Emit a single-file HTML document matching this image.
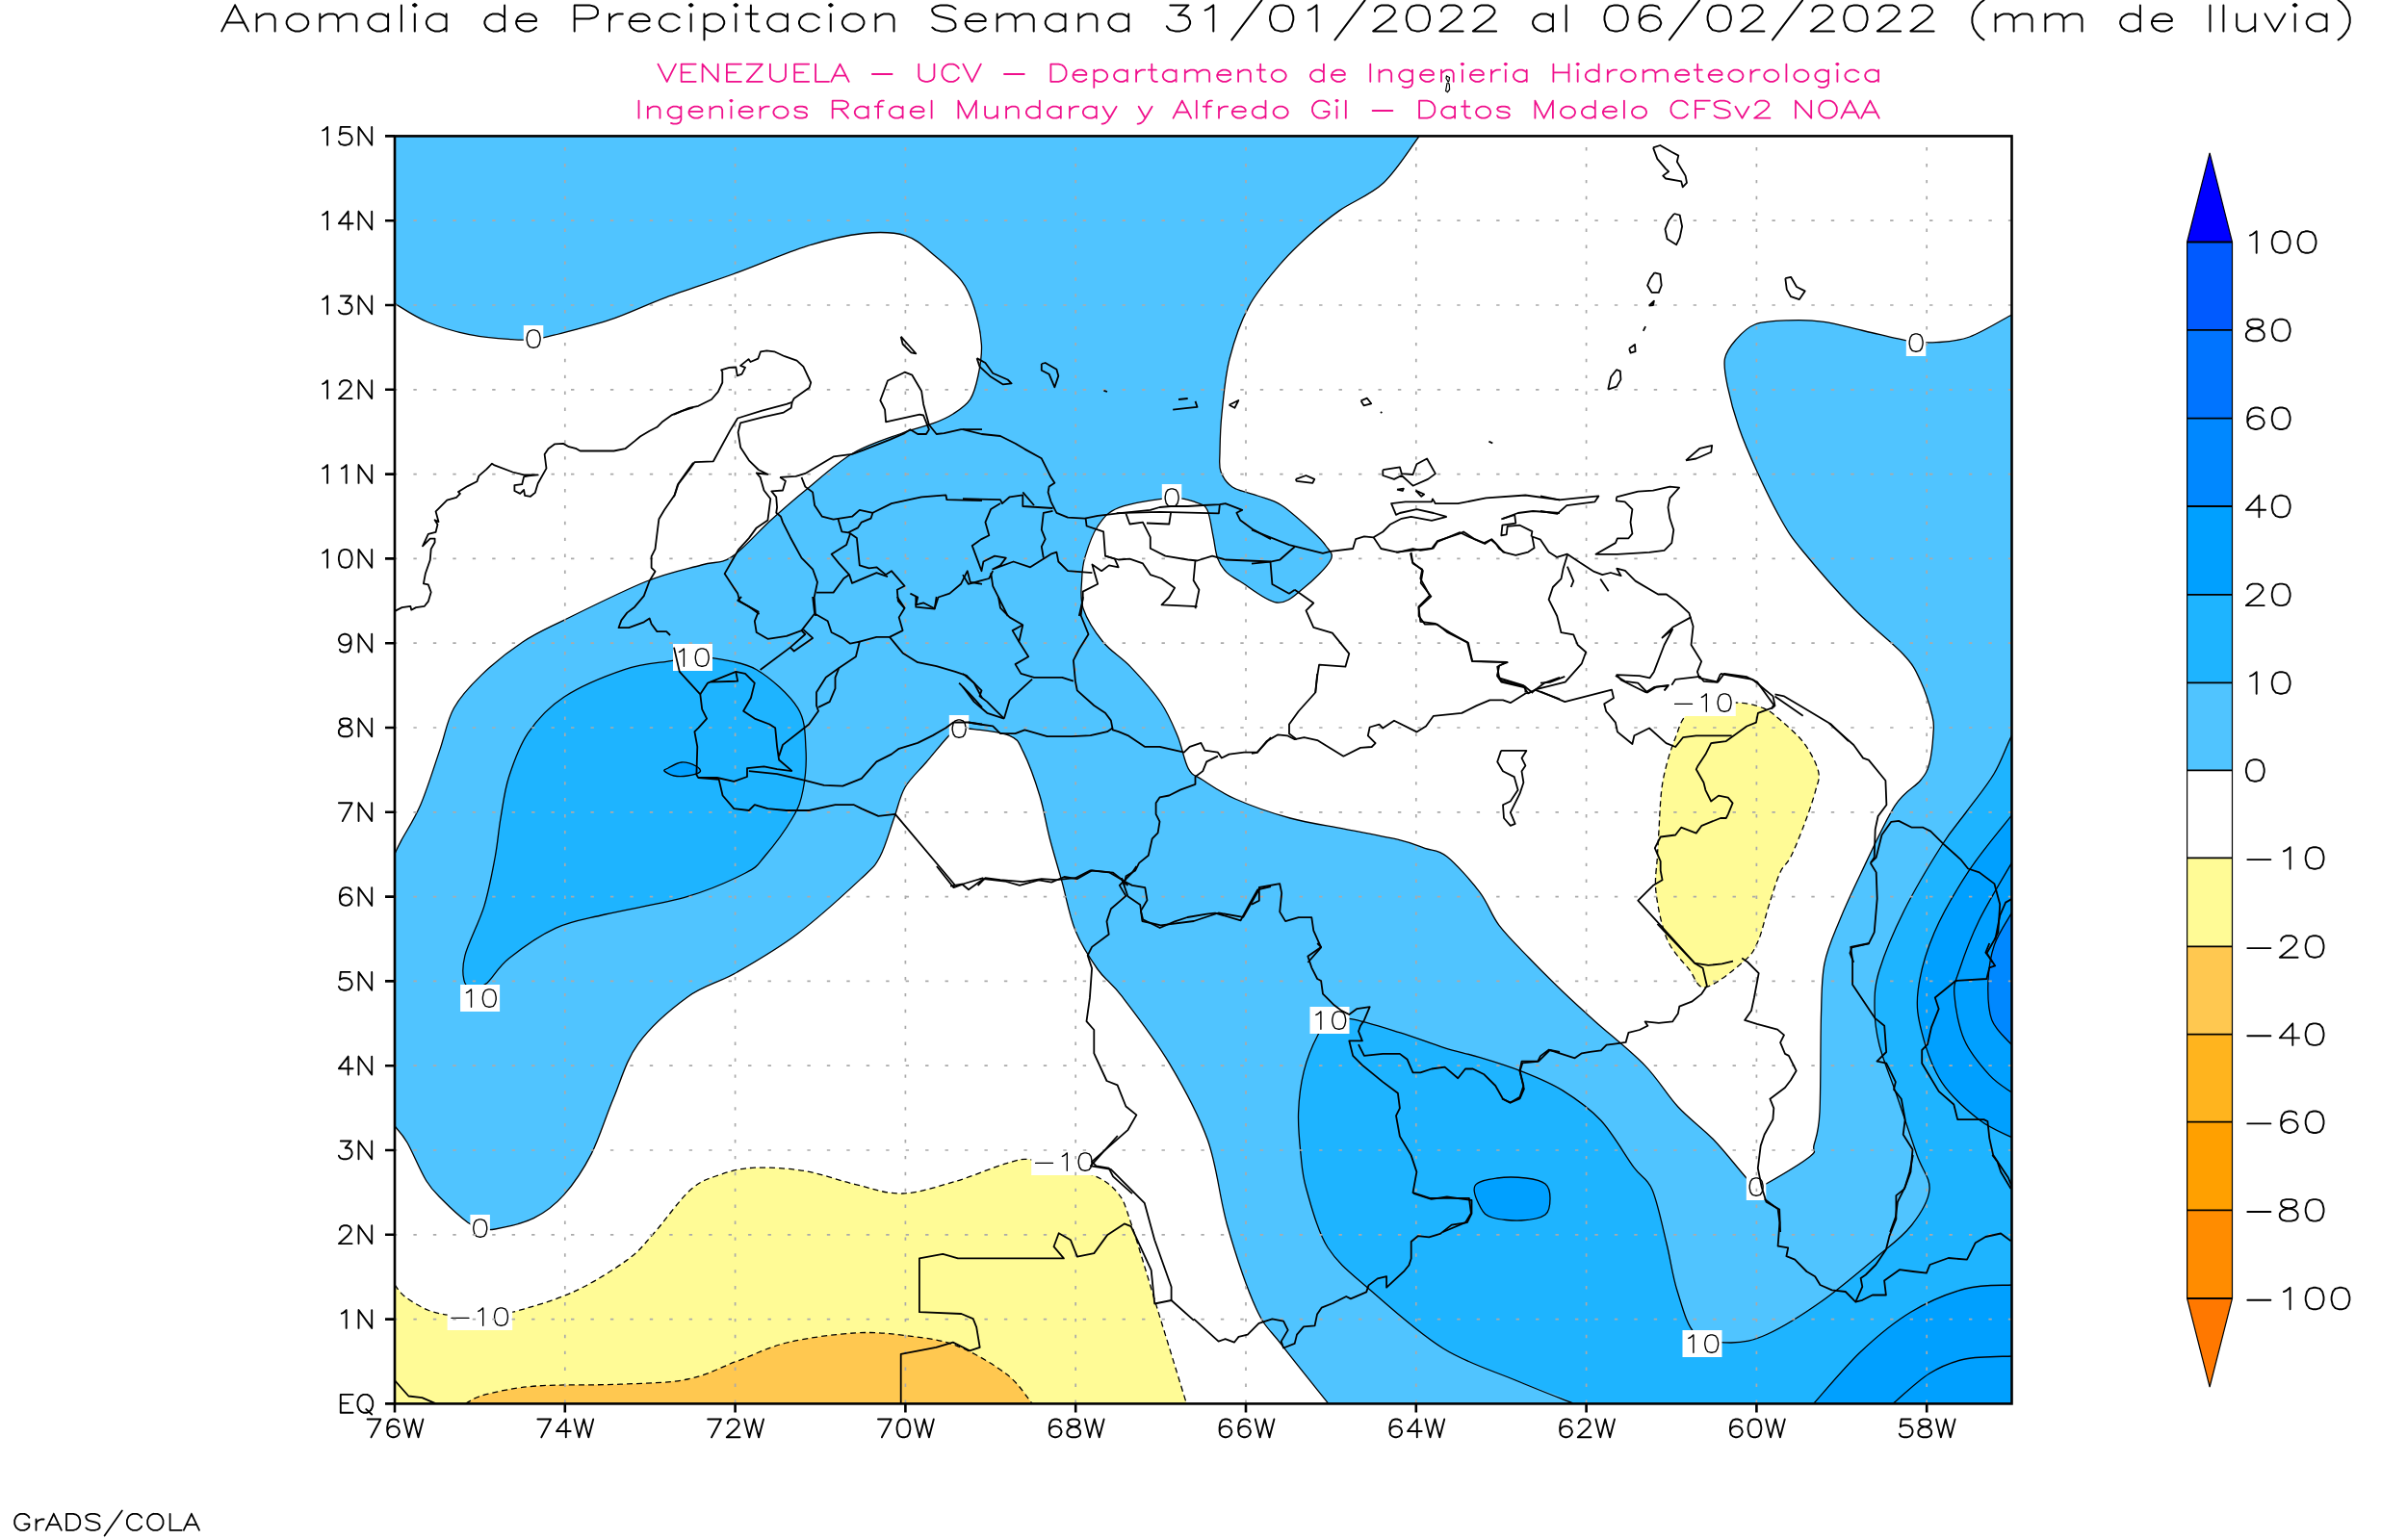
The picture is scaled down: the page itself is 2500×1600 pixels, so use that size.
<!DOCTYPE html>
<html><head><meta charset="utf-8"><style>html,body{margin:0;padding:0;background:#fff;}svg{display:block;}</style></head>
<body><svg width="2500" height="1600" viewBox="0 0 2500 1600">
<rect width="2500" height="1600" fill="#fff"/>
<defs><clipPath id="mc"><rect x="410" y="141.4" width="1679.5" height="1317.0"/></clipPath></defs>
<g clip-path="url(#mc)">
<rect x="410" y="141.4" width="1679.5" height="1317.0" fill="#50c4ff"/>
<path d="M380 298 C385 300.9 399.6 309.4 410.2 315.5 C420.8 321.6 430.9 329.1 443.8 334.5 C456.7 339.9 473 344.7 487.6 347.7 C502.2 350.7 520.5 351.8 531.5 352.6 C542.5 353.5 546.1 353.5 553.4 352.8 C560.7 352.1 561.9 351.6 575.3 348.2 C588.7 344.8 614.2 338.8 633.7 332.2 C653.2 325.6 670.2 316.9 692.1 308.8 C714 300.7 740.9 292.3 765.2 283.4 C789.6 274.5 816.3 262.4 838.2 255.6 C860.1 248.8 879.7 244.3 896.7 242.5 C913.8 240.7 928.3 241.1 940.5 244.8 C952.7 248.6 960.3 257.1 970 265 C979.7 272.9 991.9 282.9 998.9 292.1 C1005.9 301.3 1008.6 309 1012 320 C1015.4 331 1018.7 346.2 1019.4 357.9 C1020.1 369.6 1018 380.5 1016 390 C1014 399.5 1012 408.2 1007.7 414.9 C1003.4 421.6 996.3 425.9 990 430 C983.7 434.1 978.5 436.4 969.7 439.7 C960.9 443 951 444.8 937 450 C923 455.2 902.4 461.2 885.7 471 C869 480.8 851.3 497.3 837 509 C822.7 520.7 812.8 529.4 800 541 C787.2 552.6 771.9 570.9 760 578.6 C748.1 586.3 743.4 582.8 728.6 587 C713.8 591.2 695.2 594.5 671.4 604 C647.6 613.5 607.1 633.8 585.7 644.3 C564.3 654.8 557.2 657.5 542.9 667 C528.6 676.5 511.9 689.9 500 701.4 C488.1 712.9 478.6 722.8 471.4 735.7 C464.2 748.6 462.7 761.9 457 778.6 C451.3 795.3 443.7 820 437 835.7 C430.3 851.4 421.5 864.4 417 872.9 C412.5 881.4 416.2 876.6 410 887 C403.8 897.4 385 927 380 935 Z" fill="#fff"/>
<path d="M380 1140 C385 1145 402.9 1162.2 410 1170 C417.1 1177.8 417.4 1177.5 422.9 1187 C428.4 1196.5 436.7 1217 442.9 1227 C449.1 1237 452.9 1239.8 460 1247 C467.1 1254.2 479.3 1265.2 485.7 1270 C492.1 1274.8 493.8 1274.8 498.6 1276 C503.4 1277.2 505 1278.7 514.3 1277 C523.6 1275.3 542.4 1271.6 554.3 1265.7 C566.2 1259.8 575.7 1252.6 585.7 1241.4 C595.7 1230.2 605.8 1215.3 614.3 1198.6 C622.8 1181.9 628.9 1160.5 637 1141.4 C645.1 1122.4 650 1101.9 662.9 1084.3 C675.8 1066.7 697.2 1048.1 714.3 1035.7 C731.4 1023.3 746.7 1021 765.7 1010 C784.8 999 807.2 986.2 828.6 970 C850 953.8 880.1 926.2 894.3 912.9 C908.5 899.6 908.3 900.5 914 890 C919.7 879.5 924.3 862 928.6 850 C932.9 838 934.4 827.7 940 818 C945.6 808.3 954.5 800.8 962 792 C969.5 783.2 979.3 770.8 985 765 C990.7 759.2 992.5 758.8 996 757.5 C999.5 756.2 996.9 755.9 1005.7 757 C1014.5 758.1 1039.1 760.2 1048.6 764.3 C1058.1 768.4 1057.7 770.9 1062.9 781.4 C1068.1 791.9 1075.5 812.2 1080 827 C1084.5 841.8 1086.2 855.2 1090 870 C1093.8 884.8 1098.4 899.5 1102.9 915.7 C1107.4 931.9 1110.8 951.9 1117 967.1 C1123.2 982.3 1131.9 995.6 1140 1007 C1148.1 1018.4 1153.3 1019.5 1165.7 1035.7 C1178.1 1051.9 1199.5 1079.5 1214.3 1104.3 C1229.1 1129.1 1244.2 1156.1 1254.3 1184.3 C1264.4 1212.5 1266.4 1244.3 1274.8 1273.5 C1283.2 1302.7 1295.3 1338.9 1304.7 1359.5 C1314.1 1380.1 1318.4 1380.5 1330.9 1396.9 C1343.4 1413.3 1368 1442.5 1379.5 1458 C1391 1473.5 1396.6 1484.7 1400 1490 L380 1488.4 Z" fill="#fff"/>
<path d="M380 1310 C385 1314.2 403.2 1328.8 410 1335 C416.8 1341.2 415.1 1343.1 421 1347.5 C426.9 1351.9 437.3 1358.3 445.4 1361.5 C453.5 1364.7 460.8 1365.5 469.8 1366.7 C478.8 1367.9 489 1369 499.5 1368.4 C510 1367.8 516.6 1367.6 532.6 1363.2 C548.6 1358.8 575.6 1351.3 595.4 1342.3 C615.2 1333.3 637.3 1319.3 651.3 1309.1 C665.3 1298.9 668.2 1293.4 679.2 1281.2 C690.2 1269 706 1246 717.6 1235.8 C729.2 1225.6 738 1223.9 749 1220.1 C760 1216.3 769.4 1213.8 783.9 1213.2 C798.4 1212.6 818.8 1213.7 836.2 1216.6 C853.7 1219.5 871.7 1226.7 888.6 1230.6 C905.5 1234.5 920 1240.6 937.4 1240 C954.8 1239.4 975.3 1232.3 993.3 1227.1 C1011.3 1221.9 1032.2 1212.3 1045.6 1208.6 C1059 1204.9 1059 1203.2 1073.5 1205.1 C1088 1207 1118.4 1214.4 1132.9 1220.1 C1147.5 1225.8 1153.8 1230.9 1160.8 1239.3 C1167.8 1247.7 1167.7 1250.3 1174.7 1270.7 C1181.7 1291.1 1193 1330.3 1202.6 1361.5 C1212.2 1392.7 1225.7 1436.6 1232.3 1458 C1238.9 1479.4 1240.4 1484.7 1242 1490 L380 1488.4 Z" fill="#fffb96"/>
<path d="M460 1475 C464 1472.2 476.4 1462.4 483.8 1458 C491.2 1453.6 492.5 1451.7 504.7 1448.7 C516.9 1445.7 533.7 1441.8 557 1440 C580.3 1438.2 618.1 1439.4 644.3 1438.2 C670.5 1437 693.8 1437.1 714.1 1433 C734.5 1428.9 749 1420.2 766.4 1413.8 C783.8 1407.4 798.4 1399.4 818.8 1394.6 C839.2 1389.8 868.2 1386.1 888.6 1384.9 C909 1383.7 923.5 1385.4 940.9 1387.6 C958.3 1389.8 975.8 1391.4 993.3 1398.1 C1010.8 1404.8 1032.5 1417.8 1045.6 1427.8 C1058.7 1437.8 1065.2 1449.3 1071.8 1458 C1078.4 1466.7 1082.8 1476.3 1085 1480 Z" fill="#ffc850"/>
<path d="M1500 100 C1495.7 106.8 1484.8 126 1474.3 141 C1463.8 156 1450.8 177.1 1437 190 C1423.2 202.9 1404.2 209.6 1391.4 218.6 C1378.6 227.6 1370.5 234.5 1360 244 C1349.5 253.5 1339.1 263.3 1328.6 275.7 C1318.1 288.1 1305.6 302.4 1297 318.6 C1288.4 334.8 1281.7 354.4 1277 373 C1272.3 391.6 1270.7 413.8 1269 430 C1267.3 446.2 1267.2 460 1267 470 C1266.8 480 1265.8 484 1268 490 C1270.2 496 1273.7 501.8 1280 506 C1286.3 510.2 1297.5 511.8 1306 515 C1314.5 518.2 1321.7 519 1331 525 C1340.3 531 1354.3 544 1362 551 C1369.7 558 1373.7 561.8 1377 567 C1380.3 572.2 1385.8 574.7 1382 582 C1378.2 589.3 1363.3 603.7 1354 611 C1344.7 618.3 1337 627.2 1326 626 C1315 624.8 1296.7 609.2 1288 604 C1279.3 598.8 1277.9 598.6 1274 594.6 C1270.1 590.6 1266.8 586 1264.5 579.7 C1262.2 573.4 1261.8 565.3 1260 557 C1258.2 548.7 1256.8 535.8 1254 530 C1251.2 524.2 1249.5 524.4 1243.3 522.3 C1237.1 520.2 1230.5 516.6 1217 517.4 C1203.5 518.2 1175.1 522.4 1162.3 527.3 C1149.5 532.2 1145.9 538.5 1140 547 C1134.1 555.5 1129.7 569.6 1127 578.6 C1124.3 587.6 1124 592.1 1123.7 601 C1123.4 609.9 1121.3 621 1125 632 C1128.7 643 1137.5 656.9 1145.7 667 C1153.9 677.1 1164.3 682.4 1174.3 692.9 C1184.3 703.4 1197.6 718.1 1205.7 730 C1213.8 741.9 1218.1 752.9 1222.9 764.3 C1227.7 775.7 1230 791 1234.3 798.6 C1238.6 806.2 1240.5 804.8 1248.6 810 C1256.7 815.2 1267.7 823.3 1282.9 830 C1298.1 836.7 1321 844.8 1340 850 C1359 855.2 1378 857.6 1397 861.4 C1416 865.2 1440.5 869.6 1454.3 872.9 C1468.1 876.2 1471.9 878.5 1480 881.4 C1488.1 884.2 1493.4 882.4 1502.9 890 C1512.4 897.6 1528 915.2 1537 927.1 C1546 939 1548.4 950 1557 961.4 C1565.6 972.8 1577.6 984.3 1588.6 995.7 C1599.6 1007.1 1611.5 1019 1622.9 1030 C1634.3 1041 1642.7 1048.6 1657 1061.4 C1671.3 1074.2 1694.3 1092.3 1708.6 1107.1 C1722.9 1121.9 1731 1137.1 1742.9 1150 C1754.8 1162.9 1768.1 1171.9 1780 1184.3 C1791.9 1196.7 1806.9 1216.2 1814.3 1224.3 C1821.7 1232.4 1821 1232 1824.3 1233 C1827.6 1234 1825 1235.3 1834.3 1230 C1843.6 1224.7 1871.7 1208.1 1880 1201.4 C1888.3 1194.7 1882.3 1197.6 1884 1190 C1885.7 1182.4 1888.8 1178.3 1890 1155.6 C1891.2 1132.9 1890.7 1079.8 1891.5 1054 C1892.3 1028.2 1891.8 1017.1 1895 1000.9 C1898.2 984.7 1904.2 972.2 1910.5 956.7 C1916.8 941.2 1922.9 927.9 1932.5 908 C1942.1 888.1 1957.6 853.6 1967.9 837.4 C1978.2 821.2 1988.5 818.4 1994.5 811 C2000.5 803.6 2001.8 801.2 2004 793 C2006.2 784.8 2007.5 770.2 2008 762 C2008.5 753.8 2009.2 753.2 2007 744 C2004.8 734.8 1999.5 717.7 1994.5 707 C1989.5 696.3 1988.4 692.3 1977 680 C1965.6 667.7 1943.5 651 1926 633 C1908.5 615 1884.7 587.5 1872 572 C1859.3 556.5 1857.8 553.7 1850 540 C1842.2 526.3 1832.3 506 1825 490 C1817.7 474 1811.1 458.8 1806 444 C1800.9 429.2 1796.7 413.2 1794.3 401.4 C1791.9 389.5 1790 381 1791.4 372.9 C1792.8 364.8 1797.7 359 1802.9 353 C1808.2 347 1813.9 340.4 1822.9 337 C1831.9 333.6 1845.1 333.3 1857 332.9 C1868.9 332.4 1881 332.4 1894.3 334.3 C1907.6 336.2 1922.2 340.7 1937 344 C1951.8 347.3 1970.7 352.4 1983 354.3 C1995.3 356.2 2000.5 356.4 2011 355.7 C2021.5 355 2032.6 354.8 2045.7 350 C2058.8 345.2 2077.1 334.5 2089.5 327 C2101.9 319.5 2114.9 308.7 2120 305 L2119.5 111.4 L1500 111.4 Z" fill="#fff"/>
<path d="M1751.4 742.9 C1757.2 737.6 1766.4 737.1 1775 735 C1783.6 732.9 1793.5 729.9 1802.9 730 C1812.3 730.1 1823.3 732.4 1831.4 735.7 C1839.5 739 1844.2 743.8 1851.4 750 C1858.6 756.2 1868.1 764.3 1874.3 772.9 C1880.5 781.5 1886.7 793.3 1888.6 801.4 C1890.5 809.5 1888.1 812.3 1885.7 821.4 C1883.3 830.5 1878.6 844.3 1874.3 855.7 C1870 867.1 1864.3 881.4 1860 890 C1855.7 898.6 1852.4 898.5 1848.6 907.1 C1844.8 915.7 1840.8 929.5 1837 941.4 C1833.2 953.3 1830 969.1 1825.7 978.6 C1821.4 988.1 1820.5 990.8 1811.4 998.6 C1802.4 1006.5 1780.9 1024.3 1771.4 1025.7 C1761.9 1027.1 1761 1015.4 1754.3 1007.1 C1747.6 998.8 1737.1 989 1731.4 975.7 C1725.7 962.4 1721.7 941.4 1720 927.1 C1718.3 912.8 1720.9 900.5 1721.4 890 C1721.9 879.5 1722.2 875.7 1722.9 864.3 C1723.6 852.9 1724.3 833.3 1725.7 821.4 C1727.1 809.5 1729 802 1731.4 792.9 C1733.8 783.8 1736.7 775.3 1740 767 C1743.3 758.7 1745.6 748.2 1751.4 742.9 Z" fill="#fffb96"/>
<path d="M697 686.6 C708.7 684.5 711.8 683.5 719 683 C726.2 682.5 728.9 681.6 740 683.7 C751.1 685.8 770.9 687 785.7 695.7 C800.5 704.4 820.1 721.9 828.6 735.7 C837.1 749.5 836.1 764.4 837 778.6 C837.9 792.8 836.3 809.1 834 821 C831.7 832.9 829.7 838.5 823 850 C816.3 861.5 802.1 880.5 794 890 C785.9 899.5 787.6 900.1 774.3 907 C761 913.9 738.6 924.2 714.3 931.4 C690 938.6 651.5 944.5 628.6 950 C605.7 955.5 593.7 956.7 577 964.3 C560.3 971.9 540.5 986.2 528.6 995.7 C516.7 1005.2 511.5 1016.7 505.7 1021.4 C499.9 1026.1 497.8 1024 494 1024 C490.2 1024 484.8 1026.6 482.9 1021.4 C481 1016.2 479.6 1006.2 482.9 992.9 C486.2 979.6 497.7 958.5 502.9 941.4 C508.1 924.2 511.4 905.2 514.3 890 C517.1 874.8 517.6 863.8 520 850 C522.4 836.2 523.8 821.8 528.6 807 C533.4 792.2 539.1 775.2 548.6 761.4 C558.1 747.6 569 735.2 585.7 724.3 C602.4 713.3 630.1 702 648.6 695.7 C667.1 689.4 685.3 688.7 697 686.6 Z" fill="#1eb4ff"/>
<path d="M1650 1490 C1647.3 1484.7 1646.4 1467.3 1633.7 1458 C1621 1448.7 1596.5 1443.5 1574 1434 C1551.5 1424.5 1524 1416.5 1499 1401 C1474 1385.5 1444 1358.5 1424 1341 C1404 1323.5 1390.2 1313.5 1379 1296 C1367.8 1278.5 1361.7 1252.2 1357 1236 C1352.3 1219.8 1352.4 1212.4 1351 1199 C1349.6 1185.6 1348 1170 1348.6 1155.7 C1349.1 1141.4 1351 1126.2 1354.3 1112.9 C1357.6 1099.6 1364.1 1084.2 1368.6 1075.7 C1373 1067.2 1375.3 1064.8 1381 1062 C1386.7 1059.2 1390.8 1056.8 1403 1058.6 C1415.2 1060.4 1438.1 1067.9 1454.3 1072.9 C1470.5 1077.9 1486.2 1084.3 1500 1088.6 C1513.8 1092.9 1523.7 1094.5 1537 1098.6 C1550.3 1102.6 1565.7 1107.2 1580 1112.9 C1594.3 1118.6 1609.1 1124.3 1622.9 1132.9 C1636.7 1141.5 1650.6 1151 1662.9 1164.3 C1675.2 1177.6 1688.2 1201 1697 1212.9 C1705.8 1224.9 1710.3 1222.8 1716 1236 C1721.7 1249.2 1726.7 1274.5 1731 1292 C1735.3 1309.5 1737 1325.3 1742 1341 C1747 1356.7 1751.7 1377 1761 1386 C1770.3 1395 1785.5 1395 1798 1395 C1810.5 1395 1820.3 1393.2 1836 1386 C1851.7 1378.8 1873.3 1365.2 1892 1352 C1910.7 1338.8 1932.5 1320.1 1948 1307 C1963.5 1293.9 1975.7 1285.3 1985 1273.5 C1994.3 1261.7 2003 1248.2 2004 1236 C2005 1223.8 1996.7 1216.3 1991 1200 C1985.3 1183.7 1976.5 1157 1970 1138 C1963.5 1119 1955.8 1101.2 1952 1086 C1948.2 1070.8 1947 1060 1947 1047 C1947 1034 1946.8 1024.9 1952 1008 C1957.2 991.1 1967.2 967.2 1978 945.5 C1988.8 923.8 2006.3 894.9 2017 878 C2027.7 861.1 2033 856.3 2042 844 C2051 831.7 2063.1 817.3 2071 804 C2078.9 790.7 2083 777.2 2089.5 764 C2096 750.8 2106.6 731.5 2110 725 L2119.5 1488.4 L1650 1488.4 Z" fill="#1eb4ff"/>
<path d="M2110 820 C2106.6 824.5 2100.3 832.8 2089.6 846.8 C2078.8 860.8 2058.9 883.6 2045.5 903.9 C2032.1 924.2 2018 948 2009.1 968.8 C2000.2 989.6 1994.4 1011.3 1992.2 1028.6 C1990 1045.9 1992 1056.7 1996.1 1072.7 C2000.2 1088.7 2007 1109.6 2016.9 1124.7 C2026.9 1139.8 2043.7 1154.1 2055.8 1163.6 C2067.9 1173.1 2080.6 1177.4 2089.6 1181.8 C2098.6 1186.2 2106.6 1188.6 2110 1190 L2119.5 1190 L2119.5 820 Z" fill="#00a0ff"/>
<path d="M1860 1480 C1864 1476.3 1871.8 1470.7 1884 1458 C1896.2 1445.3 1916.2 1419.8 1933 1404 C1949.8 1388.2 1967 1373.8 1985 1363 C2003 1352.2 2023.6 1343.7 2041 1339 C2058.4 1334.3 2078 1335.5 2089.5 1335 C2101 1334.5 2106.6 1335.8 2110 1336 L2119.5 1488.4 Z" fill="#00a0ff"/>
<path d="M694 798 C697 796.5 703.2 792.3 708 792 C712.8 791.7 719.8 794.3 723 796 C726.2 797.7 728.5 800.3 727 802 C725.5 803.7 718.5 805.3 714 806 C709.5 806.7 704 806.8 700 806 C696 805.2 691 802.3 690 801 C689 799.7 691 799.5 694 798 Z" fill="#00a0ff"/>
<path d="M1532 1232 C1534.8 1226.8 1546.2 1225.3 1555 1224 C1563.8 1222.7 1576.7 1223 1585 1224 C1593.3 1225 1600.8 1226.5 1605 1230 C1609.2 1233.5 1610 1239.7 1610 1245 C1610 1250.3 1610 1258.2 1605 1262 C1600 1265.8 1589.2 1267.5 1580 1268 C1570.8 1268.5 1557 1267.2 1550 1265 C1543 1262.8 1541 1260.5 1538 1255 C1535 1249.5 1529.2 1237.2 1532 1232 Z" fill="#00a0ff"/>
<path d="M2110 905 C2106.6 912.2 2096 935.3 2089.6 948.1 C2083.2 960.9 2075.5 969.7 2071.4 981.8 C2067.3 993.9 2065.3 1007.8 2064.9 1020.8 C2064.5 1033.8 2064.7 1048.9 2068.8 1059.7 C2072.9 1070.5 2082.7 1079 2089.6 1085.7 C2096.5 1092.4 2106.6 1097.6 2110 1100 L2119.5 1100 L2119.5 905 Z" fill="#0088ff"/>
<path d="M410.2 315.5 C415.8 318.7 430.9 329.1 443.8 334.5 C456.7 339.9 473 344.7 487.6 347.7 C502.2 350.7 520.5 351.8 531.5 352.6 C542.5 353.5 546.1 353.5 553.4 352.8 C560.7 352.1 561.9 351.6 575.3 348.2 C588.7 344.8 614.2 338.8 633.7 332.2 C653.2 325.6 670.2 316.9 692.1 308.8 C714 300.7 740.9 292.3 765.2 283.4 C789.6 274.5 816.3 262.4 838.2 255.6 C860.1 248.8 879.7 244.3 896.7 242.5 C913.8 240.7 928.3 241.1 940.5 244.8 C952.7 248.6 960.3 257.1 970 265 C979.7 272.9 991.9 282.9 998.9 292.1 C1005.9 301.3 1008.6 309 1012 320 C1015.4 331 1018.7 346.2 1019.4 357.9 C1020.1 369.6 1018 380.5 1016 390 C1014 399.5 1012 408.2 1007.7 414.9 C1003.4 421.6 996.3 425.9 990 430 C983.7 434.1 978.5 436.4 969.7 439.7 C960.9 443 951 444.8 937 450 C923 455.2 902.4 461.2 885.7 471 C869 480.8 851.3 497.3 837 509 C822.7 520.7 812.8 529.4 800 541 C787.2 552.6 771.9 570.9 760 578.6 C748.1 586.3 743.4 582.8 728.6 587 C713.8 591.2 695.2 594.5 671.4 604 C647.6 613.5 607.1 633.8 585.7 644.3 C564.3 654.8 557.2 657.5 542.9 667 C528.6 676.5 511.9 689.9 500 701.4 C488.1 712.9 478.6 722.8 471.4 735.7 C464.2 748.6 462.7 761.9 457 778.6 C451.3 795.3 443.7 820 437 835.7 C430.3 851.4 421.5 864.4 417 872.9 C412.5 881.4 411.2 884.6 410 887" stroke="#000" stroke-width="1.3" fill="none"/>
<path d="M410 1170 C412.1 1172.8 417.4 1177.5 422.9 1187 C428.4 1196.5 436.7 1217 442.9 1227 C449.1 1237 452.9 1239.8 460 1247 C467.1 1254.2 479.3 1265.2 485.7 1270 C492.1 1274.8 493.8 1274.8 498.6 1276 C503.4 1277.2 505 1278.7 514.3 1277 C523.6 1275.3 542.4 1271.6 554.3 1265.7 C566.2 1259.8 575.7 1252.6 585.7 1241.4 C595.7 1230.2 605.8 1215.3 614.3 1198.6 C622.8 1181.9 628.9 1160.5 637 1141.4 C645.1 1122.4 650 1101.9 662.9 1084.3 C675.8 1066.7 697.2 1048.1 714.3 1035.7 C731.4 1023.3 746.7 1021 765.7 1010 C784.8 999 807.2 986.2 828.6 970 C850 953.8 880.1 926.2 894.3 912.9 C908.5 899.6 908.3 900.5 914 890 C919.7 879.5 924.3 862 928.6 850 C932.9 838 934.4 827.7 940 818 C945.6 808.3 954.5 800.8 962 792 C969.5 783.2 979.3 770.8 985 765 C990.7 759.2 992.5 758.8 996 757.5 C999.5 756.2 996.9 755.9 1005.7 757 C1014.5 758.1 1039.1 760.2 1048.6 764.3 C1058.1 768.4 1057.7 770.9 1062.9 781.4 C1068.1 791.9 1075.5 812.2 1080 827 C1084.5 841.8 1086.2 855.2 1090 870 C1093.8 884.8 1098.4 899.5 1102.9 915.7 C1107.4 931.9 1110.8 951.9 1117 967.1 C1123.2 982.3 1131.9 995.6 1140 1007 C1148.1 1018.4 1153.3 1019.5 1165.7 1035.7 C1178.1 1051.9 1199.5 1079.5 1214.3 1104.3 C1229.1 1129.1 1244.2 1156.1 1254.3 1184.3 C1264.4 1212.5 1266.4 1244.3 1274.8 1273.5 C1283.2 1302.7 1295.3 1338.9 1304.7 1359.5 C1314.1 1380.1 1318.4 1380.5 1330.9 1396.9 C1343.4 1413.3 1371.4 1447.8 1379.5 1458" stroke="#000" stroke-width="1.3" fill="none"/>
<path d="M1474.3 141 C1468.1 149.2 1450.8 177.1 1437 190 C1423.2 202.9 1404.2 209.6 1391.4 218.6 C1378.6 227.6 1370.5 234.5 1360 244 C1349.5 253.5 1339.1 263.3 1328.6 275.7 C1318.1 288.1 1305.6 302.4 1297 318.6 C1288.4 334.8 1281.7 354.4 1277 373 C1272.3 391.6 1270.7 413.8 1269 430 C1267.3 446.2 1267.2 460 1267 470 C1266.8 480 1265.8 484 1268 490 C1270.2 496 1273.7 501.8 1280 506 C1286.3 510.2 1297.5 511.8 1306 515 C1314.5 518.2 1321.7 519 1331 525 C1340.3 531 1354.3 544 1362 551 C1369.7 558 1373.7 561.8 1377 567 C1380.3 572.2 1385.8 574.7 1382 582 C1378.2 589.3 1363.3 603.7 1354 611 C1344.7 618.3 1337 627.2 1326 626 C1315 624.8 1296.7 609.2 1288 604 C1279.3 598.8 1277.9 598.6 1274 594.6 C1270.1 590.6 1266.8 586 1264.5 579.7 C1262.2 573.4 1261.8 565.3 1260 557 C1258.2 548.7 1256.8 535.8 1254 530 C1251.2 524.2 1249.5 524.4 1243.3 522.3 C1237.1 520.2 1230.5 516.6 1217 517.4 C1203.5 518.2 1175.1 522.4 1162.3 527.3 C1149.5 532.2 1145.9 538.5 1140 547 C1134.1 555.5 1129.7 569.6 1127 578.6 C1124.3 587.6 1124 592.1 1123.7 601 C1123.4 609.9 1121.3 621 1125 632 C1128.7 643 1137.5 656.9 1145.7 667 C1153.9 677.1 1164.3 682.4 1174.3 692.9 C1184.3 703.4 1197.6 718.1 1205.7 730 C1213.8 741.9 1218.1 752.9 1222.9 764.3 C1227.7 775.7 1230 791 1234.3 798.6 C1238.6 806.2 1240.5 804.8 1248.6 810 C1256.7 815.2 1267.7 823.3 1282.9 830 C1298.1 836.7 1321 844.8 1340 850 C1359 855.2 1378 857.6 1397 861.4 C1416 865.2 1440.5 869.6 1454.3 872.9 C1468.1 876.2 1471.9 878.5 1480 881.4 C1488.1 884.2 1493.4 882.4 1502.9 890 C1512.4 897.6 1528 915.2 1537 927.1 C1546 939 1548.4 950 1557 961.4 C1565.6 972.8 1577.6 984.3 1588.6 995.7 C1599.6 1007.1 1611.5 1019 1622.9 1030 C1634.3 1041 1642.7 1048.6 1657 1061.4 C1671.3 1074.2 1694.3 1092.3 1708.6 1107.1 C1722.9 1121.9 1731 1137.1 1742.9 1150 C1754.8 1162.9 1768.1 1171.9 1780 1184.3 C1791.9 1196.7 1806.9 1216.2 1814.3 1224.3 C1821.7 1232.4 1821 1232 1824.3 1233 C1827.6 1234 1825 1235.3 1834.3 1230 C1843.6 1224.7 1871.7 1208.1 1880 1201.4 C1888.3 1194.7 1882.3 1197.6 1884 1190 C1885.7 1182.4 1888.8 1178.3 1890 1155.6 C1891.2 1132.9 1890.7 1079.8 1891.5 1054 C1892.3 1028.2 1891.8 1017.1 1895 1000.9 C1898.2 984.7 1904.2 972.2 1910.5 956.7 C1916.8 941.2 1922.9 927.9 1932.5 908 C1942.1 888.1 1957.6 853.6 1967.9 837.4 C1978.2 821.2 1988.5 818.4 1994.5 811 C2000.5 803.6 2001.8 801.2 2004 793 C2006.2 784.8 2007.5 770.2 2008 762 C2008.5 753.8 2009.2 753.2 2007 744 C2004.8 734.8 1999.5 717.7 1994.5 707 C1989.5 696.3 1988.4 692.3 1977 680 C1965.6 667.7 1943.5 651 1926 633 C1908.5 615 1884.7 587.5 1872 572 C1859.3 556.5 1857.8 553.7 1850 540 C1842.2 526.3 1832.3 506 1825 490 C1817.7 474 1811.1 458.8 1806 444 C1800.9 429.2 1796.7 413.2 1794.3 401.4 C1791.9 389.5 1790 381 1791.4 372.9 C1792.8 364.8 1797.7 359 1802.9 353 C1808.2 347 1813.9 340.4 1822.9 337 C1831.9 333.6 1845.1 333.3 1857 332.9 C1868.9 332.4 1881 332.4 1894.3 334.3 C1907.6 336.2 1922.2 340.7 1937 344 C1951.8 347.3 1970.7 352.4 1983 354.3 C1995.3 356.2 2000.5 356.4 2011 355.7 C2021.5 355 2032.6 354.8 2045.7 350 C2058.8 345.2 2082.2 330.8 2089.5 327" stroke="#000" stroke-width="1.3" fill="none"/>
<path d="M410 1335 C411.8 1337.1 415.1 1343.1 421 1347.5 C426.9 1351.9 437.3 1358.3 445.4 1361.5 C453.5 1364.7 460.8 1365.5 469.8 1366.7 C478.8 1367.9 489 1369 499.5 1368.4 C510 1367.8 516.6 1367.6 532.6 1363.2 C548.6 1358.8 575.6 1351.3 595.4 1342.3 C615.2 1333.3 637.3 1319.3 651.3 1309.1 C665.3 1298.9 668.2 1293.4 679.2 1281.2 C690.2 1269 706 1246 717.6 1235.8 C729.2 1225.6 738 1223.9 749 1220.1 C760 1216.3 769.4 1213.8 783.9 1213.2 C798.4 1212.6 818.8 1213.7 836.2 1216.6 C853.7 1219.5 871.7 1226.7 888.6 1230.6 C905.5 1234.5 920 1240.6 937.4 1240 C954.8 1239.4 975.3 1232.3 993.3 1227.1 C1011.3 1221.9 1032.2 1212.3 1045.6 1208.6 C1059 1204.9 1059 1203.2 1073.5 1205.1 C1088 1207 1118.4 1214.4 1132.9 1220.1 C1147.5 1225.8 1153.8 1230.9 1160.8 1239.3 C1167.8 1247.7 1167.7 1250.3 1174.7 1270.7 C1181.7 1291.1 1193 1330.3 1202.6 1361.5 C1212.2 1392.7 1227.3 1441.9 1232.3 1458" stroke="#000" stroke-width="1.3" fill="none" stroke-dasharray="6 4"/>
<path d="M483.8 1458 C487.3 1456.5 492.5 1451.7 504.7 1448.7 C516.9 1445.7 533.7 1441.8 557 1440 C580.3 1438.2 618.1 1439.4 644.3 1438.2 C670.5 1437 693.8 1437.1 714.1 1433 C734.5 1428.9 749 1420.2 766.4 1413.8 C783.8 1407.4 798.4 1399.4 818.8 1394.6 C839.2 1389.8 868.2 1386.1 888.6 1384.9 C909 1383.7 923.5 1385.4 940.9 1387.6 C958.3 1389.8 975.8 1391.4 993.3 1398.1 C1010.8 1404.8 1032.5 1417.8 1045.6 1427.8 C1058.7 1437.8 1067.4 1453 1071.8 1458" stroke="#000" stroke-width="1.3" fill="none" stroke-dasharray="6 4"/>
<path d="M1751.4 742.9 C1757.2 737.6 1766.4 737.1 1775 735 C1783.6 732.9 1793.5 729.9 1802.9 730 C1812.3 730.1 1823.3 732.4 1831.4 735.7 C1839.5 739 1844.2 743.8 1851.4 750 C1858.6 756.2 1868.1 764.3 1874.3 772.9 C1880.5 781.5 1886.7 793.3 1888.6 801.4 C1890.5 809.5 1888.1 812.3 1885.7 821.4 C1883.3 830.5 1878.6 844.3 1874.3 855.7 C1870 867.1 1864.3 881.4 1860 890 C1855.7 898.6 1852.4 898.5 1848.6 907.1 C1844.8 915.7 1840.8 929.5 1837 941.4 C1833.2 953.3 1830 969.1 1825.7 978.6 C1821.4 988.1 1820.5 990.8 1811.4 998.6 C1802.4 1006.5 1780.9 1024.3 1771.4 1025.7 C1761.9 1027.1 1761 1015.4 1754.3 1007.1 C1747.6 998.8 1737.1 989 1731.4 975.7 C1725.7 962.4 1721.7 941.4 1720 927.1 C1718.3 912.8 1720.9 900.5 1721.4 890 C1721.9 879.5 1722.2 875.7 1722.9 864.3 C1723.6 852.9 1724.3 833.3 1725.7 821.4 C1727.1 809.5 1729 802 1731.4 792.9 C1733.8 783.8 1736.7 775.3 1740 767 C1743.3 758.7 1745.6 748.2 1751.4 742.9 Z" stroke="#000" stroke-width="1.3" fill="none" stroke-dasharray="6 4"/>
<path d="M697 686.6 C708.7 684.5 711.8 683.5 719 683 C726.2 682.5 728.9 681.6 740 683.7 C751.1 685.8 770.9 687 785.7 695.7 C800.5 704.4 820.1 721.9 828.6 735.7 C837.1 749.5 836.1 764.4 837 778.6 C837.9 792.8 836.3 809.1 834 821 C831.7 832.9 829.7 838.5 823 850 C816.3 861.5 802.1 880.5 794 890 C785.9 899.5 787.6 900.1 774.3 907 C761 913.9 738.6 924.2 714.3 931.4 C690 938.6 651.5 944.5 628.6 950 C605.7 955.5 593.7 956.7 577 964.3 C560.3 971.9 540.5 986.2 528.6 995.7 C516.7 1005.2 511.5 1016.7 505.7 1021.4 C499.9 1026.1 497.8 1024 494 1024 C490.2 1024 484.8 1026.6 482.9 1021.4 C481 1016.2 479.6 1006.2 482.9 992.9 C486.2 979.6 497.7 958.5 502.9 941.4 C508.1 924.2 511.4 905.2 514.3 890 C517.1 874.8 517.6 863.8 520 850 C522.4 836.2 523.8 821.8 528.6 807 C533.4 792.2 539.1 775.2 548.6 761.4 C558.1 747.6 569 735.2 585.7 724.3 C602.4 713.3 630.1 702 648.6 695.7 C667.1 689.4 685.3 688.7 697 686.6 Z" stroke="#000" stroke-width="1.3" fill="none"/>
<path d="M1633.7 1458 C1623.8 1454 1596.5 1443.5 1574 1434 C1551.5 1424.5 1524 1416.5 1499 1401 C1474 1385.5 1444 1358.5 1424 1341 C1404 1323.5 1390.2 1313.5 1379 1296 C1367.8 1278.5 1361.7 1252.2 1357 1236 C1352.3 1219.8 1352.4 1212.4 1351 1199 C1349.6 1185.6 1348 1170 1348.6 1155.7 C1349.1 1141.4 1351 1126.2 1354.3 1112.9 C1357.6 1099.6 1364.1 1084.2 1368.6 1075.7 C1373 1067.2 1375.3 1064.8 1381 1062 C1386.7 1059.2 1390.8 1056.8 1403 1058.6 C1415.2 1060.4 1438.1 1067.9 1454.3 1072.9 C1470.5 1077.9 1486.2 1084.3 1500 1088.6 C1513.8 1092.9 1523.7 1094.5 1537 1098.6 C1550.3 1102.6 1565.7 1107.2 1580 1112.9 C1594.3 1118.6 1609.1 1124.3 1622.9 1132.9 C1636.7 1141.5 1650.6 1151 1662.9 1164.3 C1675.2 1177.6 1688.2 1201 1697 1212.9 C1705.8 1224.9 1710.3 1222.8 1716 1236 C1721.7 1249.2 1726.7 1274.5 1731 1292 C1735.3 1309.5 1737 1325.3 1742 1341 C1747 1356.7 1751.7 1377 1761 1386 C1770.3 1395 1785.5 1395 1798 1395 C1810.5 1395 1820.3 1393.2 1836 1386 C1851.7 1378.8 1873.3 1365.2 1892 1352 C1910.7 1338.8 1932.5 1320.1 1948 1307 C1963.5 1293.9 1975.7 1285.3 1985 1273.5 C1994.3 1261.7 2003 1248.2 2004 1236 C2005 1223.8 1996.7 1216.3 1991 1200 C1985.3 1183.7 1976.5 1157 1970 1138 C1963.5 1119 1955.8 1101.2 1952 1086 C1948.2 1070.8 1947 1060 1947 1047 C1947 1034 1946.8 1024.9 1952 1008 C1957.2 991.1 1967.2 967.2 1978 945.5 C1988.8 923.8 2006.3 894.9 2017 878 C2027.7 861.1 2033 856.3 2042 844 C2051 831.7 2063.1 817.3 2071 804 C2078.9 790.7 2083 777.2 2089.5 764 C2096 750.8 2110 725 2110 725 C2110 725 2092.9 757.5 2089.5 764" stroke="#000" stroke-width="1.3" fill="none"/>
<path d="M2089.6 846.8 C2082.2 856.3 2058.9 883.6 2045.5 903.9 C2032.1 924.2 2018 948 2009.1 968.8 C2000.2 989.6 1994.4 1011.3 1992.2 1028.6 C1990 1045.9 1992 1056.7 1996.1 1072.7 C2000.2 1088.7 2007 1109.6 2016.9 1124.7 C2026.9 1139.8 2043.7 1154.1 2055.8 1163.6 C2067.9 1173.1 2084 1178.8 2089.6 1181.8" stroke="#000" stroke-width="1.3" fill="none"/>
<path d="M1884 1458 C1892.2 1449 1916.2 1419.8 1933 1404 C1949.8 1388.2 1967 1373.8 1985 1363 C2003 1352.2 2023.6 1343.7 2041 1339 C2058.4 1334.3 2081.4 1335.7 2089.5 1335" stroke="#000" stroke-width="1.3" fill="none"/>
<path d="M694 798 C697 796.5 703.2 792.3 708 792 C712.8 791.7 719.8 794.3 723 796 C726.2 797.7 728.5 800.3 727 802 C725.5 803.7 718.5 805.3 714 806 C709.5 806.7 704 806.8 700 806 C696 805.2 691 802.3 690 801 C689 799.7 691 799.5 694 798 Z" stroke="#000" stroke-width="1.3" fill="none"/>
<path d="M1532 1232 C1534.8 1226.8 1546.2 1225.3 1555 1224 C1563.8 1222.7 1576.7 1223 1585 1224 C1593.3 1225 1600.8 1226.5 1605 1230 C1609.2 1233.5 1610 1239.7 1610 1245 C1610 1250.3 1610 1258.2 1605 1262 C1600 1265.8 1589.2 1267.5 1580 1268 C1570.8 1268.5 1557 1267.2 1550 1265 C1543 1262.8 1541 1260.5 1538 1255 C1535 1249.5 1529.2 1237.2 1532 1232 Z" stroke="#000" stroke-width="1.3" fill="none"/>
<path d="M2089.6 948.1 C2086.6 953.7 2075.5 969.7 2071.4 981.8 C2067.3 993.9 2065.3 1007.8 2064.9 1020.8 C2064.5 1033.8 2064.7 1048.9 2068.8 1059.7 C2072.9 1070.5 2086.1 1081.4 2089.6 1085.7" stroke="#000" stroke-width="1.3" fill="none"/>
<path d="M2089.6 896.1 C2084 906 2064.9 937.2 2055.8 955.8 C2046.7 974.4 2039.4 994.8 2035.1 1007.8 C2030.8 1020.8 2029 1021.7 2029.9 1033.8 C2030.8 1045.9 2034.2 1066.7 2040.3 1080.5 C2046.3 1094.3 2058 1107.8 2066.2 1116.9 C2074.4 1126 2085.7 1132.1 2089.6 1135.1" stroke="#000" stroke-width="1.3" fill="none"/>
<path d="M1966.5 1458 C1972.8 1452.8 1991.6 1434.7 2004 1427 C2016.4 1419.3 2026.8 1415 2041 1412 C2055.2 1409 2081.4 1409.5 2089.5 1409" stroke="#000" stroke-width="1.3" fill="none"/>
<rect x="543.8" y="338" width="20.5" height="28" fill="#fff"/>
<rect x="1206.8" y="503" width="20.5" height="28" fill="#fff"/>
<rect x="985.8" y="743" width="20.5" height="28" fill="#fff"/>
<rect x="488.4" y="1262" width="20.5" height="28" fill="#fff"/>
<rect x="1979.8" y="342" width="20.5" height="28" fill="#fff"/>
<rect x="1813.8" y="1219" width="20.5" height="28" fill="#fff"/>
<rect x="699" y="669" width="41" height="28" fill="#fff"/>
<rect x="478.1" y="1023" width="41" height="28" fill="#fff"/>
<rect x="1360.5" y="1046" width="41" height="28" fill="#fff"/>
<rect x="1747.5" y="1382" width="41" height="28" fill="#fff"/>
<rect x="464.6" y="1354" width="67.6" height="28" fill="#fff"/>
<rect x="1071.2" y="1193" width="67.6" height="28" fill="#fff"/>
<rect x="1735.2" y="716" width="67.6" height="28" fill="#fff"/>
<path d="M553.2 342.9L550.2 343.8L548.2 346.4L547.2 350.8L547.2 353.4L548.2 357.7L550.2 360.3L553.2 361.2L555.1 361.2L558.1 360.3L560.1 357.7L561.1 353.4L561.1 350.8L560.1 346.4L558.1 343.8L555.1 342.9L553.2 342.9M1216.2 507.9L1213.2 508.8L1211.2 511.4L1210.2 515.8L1210.2 518.4L1211.2 522.7L1213.2 525.3L1216.2 526.2L1218.1 526.2L1221.1 525.3L1223.1 522.7L1224.1 518.4L1224.1 515.8L1223.1 511.4L1221.1 508.8L1218.1 507.9L1216.2 507.9M995.2 747.9L992.2 748.8L990.2 751.4L989.2 755.8L989.2 758.4L990.2 762.7L992.2 765.3L995.2 766.2L997.1 766.2L1000.1 765.3L1002.1 762.7L1003.1 758.4L1003.1 755.8L1002.1 751.4L1000.1 748.8L997.1 747.9L995.2 747.9M497.8 1266.9L494.8 1267.8L492.8 1270.4L491.8 1274.8L491.8 1277.4L492.8 1281.7L494.8 1284.3L497.8 1285.2L499.7 1285.2L502.7 1284.3L504.7 1281.7L505.7 1277.4L505.7 1274.8L504.7 1270.4L502.7 1267.8L499.7 1266.9L497.8 1266.9M1989.2 346.9L1986.2 347.8L1984.2 350.4L1983.2 354.8L1983.2 357.4L1984.2 361.7L1986.2 364.3L1989.2 365.2L1991.1 365.2L1994.1 364.3L1996.1 361.7L1997.1 357.4L1997.1 354.8L1996.1 350.4L1994.1 347.8L1991.1 346.9L1989.2 346.9M1823.2 1223.9L1820.2 1224.8L1818.2 1227.4L1817.2 1231.8L1817.2 1234.4L1818.2 1238.7L1820.2 1241.3L1823.2 1242.2L1825.1 1242.2L1828.1 1241.3L1830.1 1238.7L1831.1 1234.4L1831.1 1231.8L1830.1 1227.4L1828.1 1224.8L1825.1 1223.9L1823.2 1223.9M705.4 677.4L707.4 676.5L710.4 673.9L710.4 692.2M728.2 673.9L725.2 674.8L723.3 677.4L722.3 681.8L722.3 684.4L723.3 688.7L725.2 691.3L728.2 692.2L730.2 692.2L733.2 691.3L735.1 688.7L736.1 684.4L736.1 681.8L735.1 677.4L733.2 674.8L730.2 673.9L728.2 673.9M484.5 1031.4L486.5 1030.5L489.5 1027.9L489.5 1046.2M507.3 1027.9L504.3 1028.8L502.4 1031.4L501.4 1035.8L501.4 1038.4L502.4 1042.7L504.3 1045.3L507.3 1046.2L509.3 1046.2L512.3 1045.3L514.2 1042.7L515.2 1038.4L515.2 1035.8L514.2 1031.4L512.3 1028.8L509.3 1027.9L507.3 1027.9M1366.9 1054.4L1368.9 1053.5L1371.9 1050.9L1371.9 1069.2M1389.7 1050.9L1386.7 1051.8L1384.8 1054.4L1383.8 1058.8L1383.8 1061.4L1384.8 1065.7L1386.7 1068.3L1389.7 1069.2L1391.7 1069.2L1394.7 1068.3L1396.6 1065.7L1397.6 1061.4L1397.6 1058.8L1396.6 1054.4L1394.7 1051.8L1391.7 1050.9L1389.7 1050.9M1753.9 1390.4L1755.9 1389.5L1758.9 1386.9L1758.9 1405.2M1776.7 1386.9L1773.7 1387.8L1771.8 1390.4L1770.8 1394.8L1770.8 1397.4L1771.8 1401.7L1773.7 1404.3L1776.7 1405.2L1778.7 1405.2L1781.7 1404.3L1783.6 1401.7L1784.6 1397.4L1784.6 1394.8L1783.6 1390.4L1781.7 1387.8L1778.7 1386.9L1776.7 1386.9M469.0 1369.4L486.9 1369.4M496.8 1362.4L498.7 1361.5L501.7 1358.9L501.7 1377.2M519.5 1358.9L516.6 1359.8L514.6 1362.4L513.6 1366.8L513.6 1369.4L514.6 1373.7L516.6 1376.3L519.5 1377.2L521.5 1377.2L524.5 1376.3L526.5 1373.7L527.4 1369.4L527.4 1366.8L526.5 1362.4L524.5 1359.8L521.5 1358.9L519.5 1358.9M1075.6 1208.4L1093.5 1208.4M1103.4 1201.4L1105.3 1200.5L1108.3 1197.9L1108.3 1216.2M1126.1 1197.9L1123.2 1198.8L1121.2 1201.4L1120.2 1205.8L1120.2 1208.4L1121.2 1212.7L1123.2 1215.3L1126.1 1216.2L1128.1 1216.2L1131.1 1215.3L1133.1 1212.7L1134.0 1208.4L1134.0 1205.8L1133.1 1201.4L1131.1 1198.8L1128.1 1197.9L1126.1 1197.9M1739.6 731.4L1757.5 731.4M1767.4 724.4L1769.3 723.5L1772.3 720.9L1772.3 739.2M1790.1 720.9L1787.2 721.8L1785.2 724.4L1784.2 728.8L1784.2 731.4L1785.2 735.7L1787.2 738.3L1790.1 739.2L1792.1 739.2L1795.1 738.3L1797.1 735.7L1798.0 731.4L1798.0 728.8L1797.1 724.4L1795.1 721.8L1792.1 720.9L1790.1 720.9" fill="none" stroke="#000" stroke-width="1.4" stroke-linecap="round" stroke-linejoin="round"/>
<path d="M410 1370.6H2089.5M410 1282.8H2089.5M410 1195H2089.5M410 1107.2H2089.5M410 1019.4H2089.5M410 931.6H2089.5M410 843.8H2089.5M410 756H2089.5M410 668.2H2089.5M410 580.4H2089.5M410 492.6H2089.5M410 404.8H2089.5M410 317H2089.5M410 229.2H2089.5" stroke="#aaa" stroke-width="1.7" stroke-dasharray="3.4 17.05" stroke-dashoffset="-19.4" fill="none"/>
<path d="M586.8 1458.4V141.4M763.6 1458.4V141.4M940.4 1458.4V141.4M1117.2 1458.4V141.4M1294 1458.4V141.4M1470.8 1458.4V141.4M1647.6 1458.4V141.4M1824.4 1458.4V141.4M2001.2 1458.4V141.4" stroke="#aaa" stroke-width="1.7" stroke-dasharray="3.4 13.5" stroke-dashoffset="-0.6" fill="none"/>
<path d="M410.7 634.6L417.5 631.1L426.3 629.8L427.3 633.7L432.1 631.1L440.9 629.8L444.8 624.9L447.7 615.2L444.8 607.4L439.9 606.4L441.9 595.7L446.7 582L447.7 570.4L451.6 563.5L451.6 559.6L446.7 559.6L439 567.4L444.8 554.8L452.6 552.8L454.5 545L451.6 540.2L455.5 542.1L452.6 531.4L464.3 519.7L474 516.8L477.9 512.9L476 511L485.7 505.1L495.4 500.2L497.4 494.4L505.2 487.6L511 481.7L513 483.1L532.5 490.5L544.1 493.4L558.7 493.4L549 494.4L544.1 495.4L542.2 503.2L534.4 504.1L534.4 510L540.2 512.9L544.1 509L545.1 514.9L551 515.8L555.8 511.9L558.7 502.2L567.5 486.6L565.6 472L569.5 466.2L576.3 461.3L585 460.9L590.9 464.2L598.7 466.2L602.6 468.5L637.6 468.5L649.3 466.2L659.1 458.4L664.9 453.5L674.6 447.7L682.4 443.8L688.3 437.9L698 431.1L707.8 427.2L713.6 425.3L720 423.3" stroke="#000" stroke-width="1.8" fill="none" stroke-linejoin="round"/>
<path d="M720 480.8L711.6 492.5L704.8 502.2L700.9 513.9L690.2 529.5L684.4 539.2L682.4 554.8L680.5 570.4L676.6 578.2L676.6 589.8L680.5 593.7L674.6 603.5L668.8 619.1L659.1 630.7L651.3 636.6L645.4 644.4L642.5 652.2L653.2 652.2L668.8 646.3L674.6 642.4L676.6 648.3L682.4 656.1L692.2 656.1L696.1 660" stroke="#000" stroke-width="1.8" fill="none" stroke-linejoin="round"/>
<path d="M700 430.6L715.6 423.8L725.3 421.8L739 415L745.8 407.2L750.3 397.5L750.3 386.4L749.1 384.4L757.5 381.9L764.3 381.5L765.8 390.3L770.5 388.7L774 381.9L769.1 379.9L777.5 373.1L779.5 376L787.3 372.7L790 365.3L796.4 364.3L804.2 365.3L814.9 370.2L827.6 374.7L834.4 380.9L842.2 397.5L840.6 402.7L824.7 414L822.7 417.9" stroke="#000" stroke-width="1.8" fill="none" stroke-linejoin="round"/>
<path d="M822.7 417.9L816.9 419.9L791.5 426.7L766.2 434.5L758.4 447.1L740.9 479.3L721.4 480.2L716.6 487.1L703.9 503.6L700 516.3" stroke="#000" stroke-width="1.8" fill="none" stroke-linejoin="round"/>
<path d="M822.7 417.9L821.7 423.8L813.9 428.6L793.5 433.1L769.1 439.3L766.6 449.1L769.1 464.7L777.9 478.3L787.7 488L797.4 492.9L785.7 491.5L789.6 495.8L793.5 509.5L800.3 518.2L797.4 540.6L785.7 548.4L777.9 559.1L767.2 570.8L752.6 596.1L766.2 616.6L768.2 624.4L777.9 630.2L788.6 638" stroke="#000" stroke-width="1.8" fill="none" stroke-linejoin="round"/>
<path d="M810.1 495.8L826.6 494.9L836.3 491.9L865.6 474.4L885 471.9L896.7 467.6L924 456.9L939.6 450.1L945.4 446.2L953.2 451L962 451L964.9 446.2L959.1 431.5L955.2 430.6L920.1 438.4L919.1 425.7L914.3 416L922 395.5L939.6 386.7L947.4 389.7L957.1 406.2L959.1 419.9L964.9 441.3L972.7 451L980.5 450.1L998 446.2L1020 446.2" stroke="#000" stroke-width="1.8" fill="none" stroke-linejoin="round"/>
<path d="M810.1 495.8L815.9 499.7L813 509.5L801.3 510.4L806.2 516.3L807.1 527L806.2 532.8L811 536.7L813 542.6L820.8 558.2L832.5 579.6L844.1 591.3L849 604.9L845.7 620.5L847.1 640" stroke="#000" stroke-width="1.8" fill="none" stroke-linejoin="round"/>
<path d="M832.5 495.8L836.3 505.6L844.1 511.4L846.1 525L853.9 536.7L865.6 539.6L885 536.7L892.8 529.9L906.5 532.8L925.9 523.1L957.1 516.3L982.4 514.3L983.4 519.2L1020 520.2" stroke="#000" stroke-width="1.8" fill="none" stroke-linejoin="round"/>
<path d="M870.4 538.7L874.3 552.3L881.1 553.3L883.1 554.3L879.2 565.9L863.6 575.7L871.4 585.4L882.1 597.1L885 605.9L910.4 595.2L922 599.1" stroke="#000" stroke-width="1.8" fill="none" stroke-linejoin="round"/>
<path d="M881.1 553.3L890.9 548.4L894.8 542.6L904.5 538.7L906.5 532.8" stroke="#000" stroke-width="1.8" fill="none" stroke-linejoin="round"/>
<path d="M883.1 554.3L889.9 559.1L892.8 587.4L902.6 590.3L910.4 589.3L920.1 597.1L925.9 593.2L939.6 608.8L931.8 612.7L932.8 624.4L939.6 632.2" stroke="#000" stroke-width="1.8" fill="none" stroke-linejoin="round"/>
<path d="M848 615.6L865.6 615.6L876.3 601L882.1 597.1" stroke="#000" stroke-width="1.8" fill="none" stroke-linejoin="round"/>
<path d="M945.4 616.6L953.2 620.5L951.3 628.3L959.1 626.3L970.7 632.2L974.6 620.5L986.3 616.6L998 606.8L1004.8 593.2L1007.8 604.9L1020 606.8" stroke="#000" stroke-width="1.8" fill="none" stroke-linejoin="round"/>
<path d="M935.7 349.7L943.5 358.5L951.3 367.3L946.4 366.3L937.6 357.5L935.7 349.7" stroke="#000" stroke-width="1.8" fill="none" stroke-linejoin="round"/>
<path d="M1000 446.2L1019.5 451L1039 453L1054.5 460.8L1064.3 466.6L1081.8 476.3L1085.7 484.1L1091.5 495.8L1095.4 501.7L1089.6 505.6L1088.6 511.4L1091.5 521.1L1097.4 532.8L1109.1 537.7L1126.6 538.7L1140.2 535.8L1165.6 532.8L1194.8 529.9L1204.5 527L1216.2 526L1233.7 526L1249.3 525L1266.8 524.1L1272.7 523.1L1290.2 529.9L1284.4 532.8L1288.3 540.6L1301.9 550.4L1320 560.1" stroke="#000" stroke-width="1.8" fill="none" stroke-linejoin="round"/>
<path d="M1159.7 533.2L1204.5 531.9L1265.9 533.4L1266.8 525" stroke="#000" stroke-width="1.8" fill="none" stroke-linejoin="round"/>
<path d="M1000 518.2L1039 519.2L1040.9 523.1L1048.7 516.3L1062.3 514.3L1062.3 526L1093.5 528" stroke="#000" stroke-width="1.8" fill="none" stroke-linejoin="round"/>
<path d="M1062.3 511.4L1074 525" stroke="#000" stroke-width="1.8" fill="none" stroke-linejoin="round"/>
<path d="M1039 523.1L1029.2 528.9L1023.4 542.6L1027.3 556.2L1019.5 560.1L1009.7 566.9L1019.5 593.2L1021.4 583.5L1033.1 577.6L1044.8 579.6L1039 587.4L1031.2 591.3L1052.6 583.5L1070.1 589.3L1091.5 575.7L1097.4 573.7L1099.3 583.5L1109.1 593.2L1134.4 595.2" stroke="#000" stroke-width="1.8" fill="none" stroke-linejoin="round"/>
<path d="M1093.5 530.9L1083.8 532.8L1081.8 550.4L1085.7 560.1L1081.8 567.9L1083.8 579.6" stroke="#000" stroke-width="1.8" fill="none" stroke-linejoin="round"/>
<path d="M1127.6 538.7L1128.6 546.5L1140.2 550.4L1146.1 552.3L1148 577.6L1157.8 580.6L1161.7 589.3L1151.9 587.4L1144.1 593.2L1134.4 586.4L1136.3 593.2L1140.2 606.8L1124.7 614.6L1124.7 622.4L1120.8 640" stroke="#000" stroke-width="1.8" fill="none" stroke-linejoin="round"/>
<path d="M1169.5 533.8L1173.4 544.5L1187 542.6L1194.8 558.2L1194.8 569.8L1210.4 577.6L1233.7 581.5L1243.5 582.5L1259.1 577.6L1272.7 581.5L1320 583.5" stroke="#000" stroke-width="1.8" fill="none" stroke-linejoin="round"/>
<path d="M1148 577.6L1161.7 581.5L1173.4 580.6L1187 585.4L1194.8 597.1L1206.5 601L1220.1 610.7L1214.3 620.5L1206.5 628.3L1243.5 630.2" stroke="#000" stroke-width="1.8" fill="none" stroke-linejoin="round"/>
<path d="M1241.5 582.5L1239.6 603L1245.4 612.7L1241.5 632.2" stroke="#000" stroke-width="1.8" fill="none" stroke-linejoin="round"/>
<path d="M1216.2 531.9L1214.3 544.5L1190.9 543.5" stroke="#000" stroke-width="1.8" fill="none" stroke-linejoin="round"/>
<path d="M1029.2 595.2L1031.2 608.8L1039 624.4L1046.7 640" stroke="#000" stroke-width="1.8" fill="none" stroke-linejoin="round"/>
<path d="M1000 597.1L1005.8 606.8L1027.3 601L1031.2 593.2" stroke="#000" stroke-width="1.8" fill="none" stroke-linejoin="round"/>
<path d="M1014.6 372.1L1023.4 377L1031.2 387.7L1046.7 394.5L1050.6 398.4L1041.9 399.4L1029.2 391.6L1017.5 380.9L1014.6 372.1" stroke="#000" stroke-width="1.8" fill="none" stroke-linejoin="round"/>
<path d="M1081.8 378L1085.7 377L1097.4 383.8L1099.3 390.6L1095.4 402.3L1089.6 388.7L1081.8 384.8L1081.8 378" stroke="#000" stroke-width="1.8" fill="none" stroke-linejoin="round"/>
<path d="M1146.5 405.8L1150 407" stroke="#000" stroke-width="1.8" fill="none" stroke-linejoin="round"/>
<path d="M1218.2 425.7L1233.7 423.8L1243.5 422.8L1241.5 416.9" stroke="#000" stroke-width="1.8" fill="none" stroke-linejoin="round"/>
<path d="M1224 415L1233.7 414" stroke="#000" stroke-width="1.8" fill="none" stroke-linejoin="round"/>
<path d="M1276.6 420.8L1286.3 416L1282.4 423.8L1276.6 420.8" stroke="#000" stroke-width="1.8" fill="none" stroke-linejoin="round"/>
<path d="M1300 550.5L1339 566.1L1374 574.9L1381.8 572.9L1405.2 570L1408.1 560.2L1416.9 557.3L1426.6 558.3L1436.3 552.5L1444.1 544.7L1455.8 538.8L1465.6 536.9L1487 540.8L1502.6 536.9" stroke="#000" stroke-width="1.8" fill="none" stroke-linejoin="round"/>
<path d="M1502.6 536.9L1488.9 533L1471.4 529.1L1453.9 533L1450 534.9L1445.1 523.2L1459.7 521.3L1487 521.3L1488 518.4L1490.9 523.2L1514.3 523.2L1543.5 517.4L1584.4 514.5L1620 519.3" stroke="#000" stroke-width="1.8" fill="none" stroke-linejoin="round"/>
<path d="M1561 538.8L1576.6 533L1592.2 531L1620 533" stroke="#000" stroke-width="1.8" fill="none" stroke-linejoin="round"/>
<path d="M1426.6 558.3L1434.4 570L1451.9 573.9L1467.5 570L1475.3 571.9L1487 570L1492.8 562.2L1516.2 554.4L1520.1 552.5L1531.8 560.2L1541.5 564.1L1549.3 560.2L1553.2 564.1L1557.1 570L1563 573.9" stroke="#000" stroke-width="1.8" fill="none" stroke-linejoin="round"/>
<path d="M1465.6 573.9L1467.5 585.6L1477.2 591.4L1475.3 601.1L1485 618.7L1473.4 630.4L1475.3 645.9L1490.9 647.9L1506.5 657.6L1524 667.4L1528.9 686.8L1564.9 687.8L1555.2 692.7L1557.1 704.4L1582.4 712.2L1592.2 720" stroke="#000" stroke-width="1.8" fill="none" stroke-linejoin="round"/>
<path d="M1344.8 612.8L1364.3 626.5L1356.5 634.3L1364.3 651.8L1383.8 657.6L1401.3 679.1L1397.4 692.7L1370.1 690.7L1368.2 702.4L1366.2 720" stroke="#000" stroke-width="1.8" fill="none" stroke-linejoin="round"/>
<path d="M1344.8 568L1329.2 581.7L1319.5 583.6L1300 585.6" stroke="#000" stroke-width="1.8" fill="none" stroke-linejoin="round"/>
<path d="M1319.5 583.6L1321.4 607L1339 616.7L1344.8 612.8" stroke="#000" stroke-width="1.8" fill="none" stroke-linejoin="round"/>
<path d="M1436.3 488.2L1453.9 485.3L1455.8 492.1L1467.5 493L1471.4 482.3L1482.1 476.5L1490.9 492.1L1483.1 497.9L1467.5 504.7L1455.8 494L1448 497.9L1436.3 494L1436.3 488.2" stroke="#000" stroke-width="1.8" fill="none" stroke-linejoin="round"/>
<path d="M1451 508.6L1457.8 507.7L1456.8 510L1451 508.6" stroke="#000" stroke-width="1.8" fill="none" stroke-linejoin="round"/>
<path d="M1470.4 509.6L1479.2 513.5L1476.3 515.8L1470.4 509.6" stroke="#000" stroke-width="1.8" fill="none" stroke-linejoin="round"/>
<path d="M1345.8 497.9L1356.5 494L1365.3 497.9L1363.3 501.8L1346.7 499.9L1345.8 497.9" stroke="#000" stroke-width="1.8" fill="none" stroke-linejoin="round"/>
<path d="M1546.4 458.6L1550.3 460.5" stroke="#000" stroke-width="1.8" fill="none" stroke-linejoin="round"/>
<path d="M1600 515.4L1619.5 519.3L1639 517.4L1660.4 515.4L1656.5 521.3L1627.3 525.2L1617.5 533.9L1600 531" stroke="#000" stroke-width="1.8" fill="none" stroke-linejoin="round"/>
<path d="M1678.9 516.4L1701.3 510.6L1716.9 509.6L1734.4 505.7L1744.1 506.7L1734.4 517.4L1732.5 527.1L1734.4 538.8L1738.3 550.5L1736.3 564.1L1728.6 571.9L1713 573.9L1679.9 575.8L1657.5 575.8L1677.9 564.1L1679.9 559.3L1691.5 559.3L1695.4 554.4L1693.5 542.7L1695.4 529.1L1687.7 521.3L1678.9 520.3L1678.9 516.4" stroke="#000" stroke-width="1.8" fill="none" stroke-linejoin="round"/>
<path d="M1751 478.4L1765.6 465.8L1778.2 462.9L1777.2 469.7L1761.7 476.5L1751 478.4" stroke="#000" stroke-width="1.8" fill="none" stroke-linejoin="round"/>
<path d="M1600 718.5L1625.3 729.2L1674 716.6L1676 725.3L1666.2 731.2L1668.2 739L1677.9 750.6L1679.9 760.4L1695.4 773L1697.4 764.3L1713 756.5L1730.5 772.1L1740.2 776L1748 766.2L1761.7 764.3L1798.7 764.3" stroke="#000" stroke-width="1.8" fill="none" stroke-linejoin="round"/>
<path d="M1841.5 735.1L1825.9 740.9L1824 750.6L1814.3 754.5L1792.8 770.1L1777.2 772.1L1771.4 783.8L1763.6 795.4L1761.7 799.3L1769.5 813L1771.4 820.8L1777.2 832.5L1785 826.6L1794.8 828.6L1799.6 834.4L1794.8 846.1L1792.8 850L1787 850L1767.5 857.8L1761.7 865.6L1746.1 859.7L1740.2 867.5L1724.7 869.5L1718.8 881.1L1724.7 894.8L1724.7 904.5L1726.6 914.3L1716.9 920.1L1709.1 927.9L1701.3 935.7L1759.7 1000" stroke="#000" stroke-width="1.8" fill="none" stroke-linejoin="round"/>
<path d="M1787 700L1820.1 705.8L1841.5 723.4L1843.5 733.1L1841.5 735.1" stroke="#000" stroke-width="1.8" fill="none" stroke-linejoin="round"/>
<path d="M1843.5 721.4L1853.2 723.4L1872.7 735.1L1901.9 752.6L1920 770.1" stroke="#000" stroke-width="1.8" fill="none" stroke-linejoin="round"/>
<path d="M1843.5 723.4L1872.7 743.8" stroke="#000" stroke-width="1.8" fill="none" stroke-linejoin="round"/>
<path d="M1600 709.7L1609.7 708.8L1625.3 702.9" stroke="#000" stroke-width="1.8" fill="none" stroke-linejoin="round"/>
<path d="M1677.9 701.9L1687.7 707.8L1701.3 709.7L1711 719.5L1720.8 713.6L1732.5 712.7L1728.6 717.5" stroke="#000" stroke-width="1.8" fill="none" stroke-linejoin="round"/>
<path d="M1736.3 711.7L1740.2 705.8L1765.6 702.9L1769.5 707.8L1783.1 708.8L1787 700" stroke="#000" stroke-width="1.8" fill="none" stroke-linejoin="round"/>
<path d="M1900 751.6L1925.3 774L1935.1 787.6L1940.9 789.6L1958.4 811L1959.4 836.3L1950.6 848L1947.7 861.6L1946.7 890.8L1942.8 896.7" stroke="#000" stroke-width="1.8" fill="none" stroke-linejoin="round"/>
<path d="M1942.8 896.7L1948.7 890.8L1954.5 867.5L1964.3 853.8L1972.1 852.9L1985.7 859.7L1997.4 859.7L2005.2 863.6L2018.8 877.2L2036.3 892.8L2044.1 902.5L2055.8 906.4L2071.4 918.1L2077.2 939.5L2075.3 968.7L2071.4 976.5L2063.6 990.2L2069.4 999.9" stroke="#000" stroke-width="1.8" fill="none" stroke-linejoin="round"/>
<path d="M1942.8 896.7L1948.7 906.4L1949.7 933.7L1946.7 968.7L1940.9 980.4L1923.4 984.3L1921.4 990.2L1925.3 999.9" stroke="#000" stroke-width="1.8" fill="none" stroke-linejoin="round"/>
<path d="M2089.9 933.7L2083.1 937.6L2077.2 951.2L2072.3 976.5" stroke="#000" stroke-width="1.8" fill="none" stroke-linejoin="round"/>
<path d="M1809.2 995.6L1815.1 999.5L1826.7 1011.2L1821.9 1036.5L1819 1050.1L1812.1 1059.9L1824.8 1063.8L1846.2 1069.6L1853 1075.4L1849.1 1083.2L1854 1094.9L1857.9 1096.9L1865.7 1112.5L1859.9 1122.2L1854 1130L1838.4 1141.7L1842.3 1151.4L1841.4 1163.1L1832.6 1178.7L1828.7 1190.4L1825.8 1213.7L1829.7 1233.2L1834.5 1248.8L1848.2 1256.6L1849.1 1280" stroke="#000" stroke-width="1.8" fill="none" stroke-linejoin="round"/>
<path d="M1941.7 980L1922.2 983.9L1924.1 997.5L1924.1 1022.9L1935.8 1040.4L1947.5 1057.9L1957.2 1065.7L1959.2 1093L1949.5 1102.7L1959.2 1104.7L1968.9 1124.1L1967 1131.9L1974.8 1141.7L1978.7 1163.1L1976.7 1178.7L1986.5 1194.3L1984.5 1217.6L1978.7 1233.2L1970.9 1248.8L1968.9 1264.4L1963.1 1280" stroke="#000" stroke-width="1.8" fill="none" stroke-linejoin="round"/>
<path d="M2066.3 980L2062.4 989.7L2068.3 997.5L2072.2 1003.4L2066.3 1005.3L2063.4 1017L2031.3 1019L2009.8 1036.5L2013.7 1048.2L2005.9 1067.7L2002 1085.2L1996.2 1091L1996.2 1104.7L2013.7 1133.9L2029.3 1147.5L2033.2 1163.1L2060.5 1163.1L2064.4 1165L2066.3 1182.6L2070.2 1200.1L2078 1211.8L2085.8 1223.5L2089.7 1233.2" stroke="#000" stroke-width="1.8" fill="none" stroke-linejoin="round"/>
<path d="M1832.6 1245.6L1846.6 1256.1L1848.4 1270.1L1846.6 1294.7L1857.2 1296.4L1855.4 1305.2L1864.2 1308.7L1876.4 1321L1885.2 1326.2L1890.5 1335L1902.7 1340.3L1916.8 1342L1927.3 1352.6L1934.3 1336.8L1932.6 1328L1937.8 1324.5L1948.3 1314L1958.9 1298.2L1962.4 1284.2L1969.4 1266.6L1969.4 1250.9L1969.4 1242.1L1978.1 1235.1L1983.4 1217.5L1986.9 1200" stroke="#000" stroke-width="1.8" fill="none" stroke-linejoin="round"/>
<path d="M1927.3 1352.6L1934.3 1350.8L1944.8 1345.5L1958.9 1345.5L1957.1 1330.6L1972.9 1319.2L1986.9 1321L2000.9 1322.7L2004.4 1314L2023.7 1307L2043 1308.7L2051.8 1291.2L2062.3 1285L2078.1 1281.5L2088.6 1289.4" stroke="#000" stroke-width="1.8" fill="none" stroke-linejoin="round"/>
<path d="M2069.3 1200L2074.6 1207L2078.1 1217.5L2088.6 1235.1" stroke="#000" stroke-width="1.8" fill="none" stroke-linejoin="round"/>
<path d="M1300 782.8L1305.8 781.8L1315.6 770.1L1327.3 763.3L1337 764.3L1344.8 768.2L1354.5 766.2L1368.2 769.1L1377.9 775L1395.4 785.7L1413 776.9L1424.7 776L1428.6 772.1L1420.8 764.3L1422.7 755.5L1432.5 752.6L1436.3 756.5L1448 748.7L1471.4 760.4L1481.1 754.5L1488.9 743.8L1518.2 740.9L1533.7 733.1L1547.4 727.3L1561 727.3L1568.8 730.2L1584.4 720.5L1592.2 718.5L1603.9 709.7L1620 703.9" stroke="#000" stroke-width="1.8" fill="none" stroke-linejoin="round"/>
<path d="M1368.2 700L1366.2 719.5L1348.7 739L1339 752.6L1339 762.3L1346.7 768.2" stroke="#000" stroke-width="1.8" fill="none" stroke-linejoin="round"/>
<path d="M1555.2 700L1559.1 706.8L1584.4 713.6L1584.4 719.5" stroke="#000" stroke-width="1.8" fill="none" stroke-linejoin="round"/>
<path d="M1594.1 716.6L1620 726.3" stroke="#000" stroke-width="1.8" fill="none" stroke-linejoin="round"/>
<path d="M1559.1 779.9L1555.2 791.5L1561 801.3L1572.7 807.1L1576.6 820.8L1568.8 832.5L1561 836.3L1562 850L1568.8 857.8L1573.7 855.8L1568.8 844.1L1578.5 824.7L1582.4 813L1580.5 801.3L1584.4 795.4L1580.5 787.7L1585.4 779.9L1559.1 779.9" stroke="#000" stroke-width="1.8" fill="none" stroke-linejoin="round"/>
<path d="M1300 939.6L1307.8 935.7L1307.8 922L1329.2 918.2L1331.2 927.9L1329.2 947.4L1335.1 957.1L1348.7 953.2L1362.3 953.2L1364.3 966.8L1372.1 984.4L1358.4 1000" stroke="#000" stroke-width="1.8" fill="none" stroke-linejoin="round"/>
<path d="M1037 620L1039 631.7L1048.7 641.4L1062.3 649.2L1058.4 666.7L1068.2 682.3L1054.5 690.1L1060.4 699.9L1074 703.8L1103.2 703.8L1114.9 707.7" stroke="#000" stroke-width="1.8" fill="none" stroke-linejoin="round"/>
<path d="M1124.7 620L1122.7 639.5L1130.5 659L1120.8 674.5L1114.9 686.2L1116.9 707.7L1118.8 717.4L1136.3 733L1148 740.8L1153.9 748.6L1155.8 758.3L1161.7 760.2L1171.4 764.1L1188.9 775.8L1204.5 775.8L1229.8 781.7L1235.7 775.8L1247.4 771.9L1251.3 779.7L1264.9 781.7L1268.8 787.5L1276.6 783.6L1292.2 781.7L1305.8 781.7L1320 766.1" stroke="#000" stroke-width="1.8" fill="none" stroke-linejoin="round"/>
<path d="M1062.3 649.2L1051.6 655.1L1058.4 666.7" stroke="#000" stroke-width="1.8" fill="none" stroke-linejoin="round"/>
<path d="M1072.1 705.7L1048.7 727.1L1042.9 746.6" stroke="#000" stroke-width="1.8" fill="none" stroke-linejoin="round"/>
<path d="M1000 699.9L1011.7 709.6L1019.5 717.4L1017.5 723.2L1025.3 729.1L1042.9 746.6" stroke="#000" stroke-width="1.8" fill="none" stroke-linejoin="round"/>
<path d="M1000 713.5L1011.7 729.1L1025.3 740.8L1042.9 746.6" stroke="#000" stroke-width="1.8" fill="none" stroke-linejoin="round"/>
<path d="M1005.8 750.5L1017.5 752.5L1031.2 754.4L1039 762.2L1054.5 762.2L1064.3 758.3L1087.7 765.1L1113 765.1L1132.5 764.1L1150 760.2L1155.8 756.3" stroke="#000" stroke-width="1.8" fill="none" stroke-linejoin="round"/>
<path d="M1264.9 785.6L1253.2 791.4L1249.3 801.1L1241.5 807L1241.5 814.8L1225.9 820.6L1214.3 826.5L1204.5 828.4L1200.6 834.3L1200.6 845.9L1204.5 853.7L1202.6 865.4L1196.7 871.3L1192.8 888.8L1183.1 896.6L1179.2 904.4L1169.5 910.2L1167.5 920" stroke="#000" stroke-width="1.8" fill="none" stroke-linejoin="round"/>
<path d="M1015.6 920L1023.4 912.2L1039 914.1L1062.3 916.1L1081.8 913.1L1097.4 914.1L1116.9 912.2L1132.5 904.4L1151.9 906.3L1165.6 914.1L1171.4 920" stroke="#000" stroke-width="1.8" fill="none" stroke-linejoin="round"/>
<path d="M700 672.6L705.8 697.9L727.3 721.3L729.2 736.9L734.1 746.6L725.3 756.3L721.4 760.2L724.3 775.8L723.4 805L725.3 808L744.8 808L762.3 811.9L776 807L776 798.2L793.5 796.3L807.1 799.2L822.7 801.1" stroke="#000" stroke-width="1.8" fill="none" stroke-linejoin="round"/>
<path d="M727.3 721.3L735.1 709.6L764.3 697.9L766.2 707.7L737 708.6" stroke="#000" stroke-width="1.8" fill="none" stroke-linejoin="round"/>
<path d="M764.3 697.9L774 699.9L783.8 709.6L779.9 725.2L772.1 738.8L783.8 746.6L799.3 752.5L805.2 756.3L807.1 775.8L809.1 789.5L822.7 801.1" stroke="#000" stroke-width="1.8" fill="none" stroke-linejoin="round"/>
<path d="M725.3 808L746.7 809.9L750.6 826.5L762.3 840.1L777.9 842L783.8 836.2L797.4 840.1L816.9 842L840.2 842L867.5 836.2L887 836.2L894.8 840.1L912.3 847.9L929.8 845.9L992.2 920" stroke="#000" stroke-width="1.8" fill="none" stroke-linejoin="round"/>
<path d="M777.9 801.1L807.1 804.1L836.3 810.9L855.8 815.8L875.3 816.7L894.8 808.9L910.4 791.4L925.9 783.6L933.7 777.8L953.2 771.9L968.8 764.1L982.4 756.3L990.2 750.5L1005.8 750.5L1020 752.5" stroke="#000" stroke-width="1.8" fill="none" stroke-linejoin="round"/>
<path d="M770.1 620L766.2 623.9L787.7 635.6L783.8 645.3L785.7 657L797.4 663.8L816.9 660.9L832.5 655.1L846.1 637.5L844.1 620" stroke="#000" stroke-width="1.8" fill="none" stroke-linejoin="round"/>
<path d="M832.5 655.1L836.3 659L820.8 672.6L824.7 676.5L844.1 662.9L834.4 654.1" stroke="#000" stroke-width="1.8" fill="none" stroke-linejoin="round"/>
<path d="M846.1 637.5L859.7 645.3L863.6 657L875.3 662.9L883.1 668.7L892.8 666.7L888.9 682.3L871.4 694L857.8 703.8L848 719.3L848 733L850 738.8L840.2 752.5L813 773.9L809.1 785.6" stroke="#000" stroke-width="1.8" fill="none" stroke-linejoin="round"/>
<path d="M789.6 696L820.8 672.6" stroke="#000" stroke-width="1.8" fill="none" stroke-linejoin="round"/>
<path d="M892.8 666.7L910.4 661.9L924 661.9L937.6 655.1L933.7 641.4L939.6 631.7L931.8 620" stroke="#000" stroke-width="1.8" fill="none" stroke-linejoin="round"/>
<path d="M924 661.9L937.6 678.4L953.2 688.2L972.7 692.1L992.2 697.9L1003.9 701.8L1011.6 709.6L1020 725.2" stroke="#000" stroke-width="1.8" fill="none" stroke-linejoin="round"/>
<path d="M996.1 709.6L1005.8 719.3L1020 734.9" stroke="#000" stroke-width="1.8" fill="none" stroke-linejoin="round"/>
<path d="M871.4 694L867.5 703.8L867.5 715.4L861.7 729.1L850 734.9" stroke="#000" stroke-width="1.8" fill="none" stroke-linejoin="round"/>
<path d="M951.3 620L951.3 630.7L970.7 632.7L972.7 620" stroke="#000" stroke-width="1.8" fill="none" stroke-linejoin="round"/>
<path d="M1164.9 912.1L1171.4 931.3L1184.2 939.9L1186.4 957L1205.6 961.3L1239.9 957L1265.6 948.5L1291.3 952.8L1308.5 922.8" stroke="#000" stroke-width="1.8" fill="none" stroke-linejoin="round"/>
<path d="M987.1 920.6L1000 918.5L1021.4 912.1" stroke="#000" stroke-width="1.8" fill="none" stroke-linejoin="round"/>
<path d="M1413.5 416.3L1419.9 413.7L1424.2 419.3L1416.5 421.4L1413.5 416.3" stroke="#000" stroke-width="1.8" fill="none" stroke-linejoin="round"/>
<path d="M1434 427.8L1435.3 429.1" stroke="#000" stroke-width="1.8" fill="none" stroke-linejoin="round"/>
<path d="M1368.2 980L1372.1 983.9L1358.4 993.6L1362.3 1005.3L1368.2 1017L1372.1 1019L1374 1032.6L1381.8 1040.4L1385.7 1044.3L1393.5 1050.1L1401.3 1054L1409.1 1048.2L1422.7 1046.2L1416.9 1059.9L1413 1065.7L1411 1071.5L1414.9 1081.3L1401.3 1081.3L1405.2 1096.9L1414.9 1106.6L1436.3 1124.1L1451.9 1135.8L1453.9 1151.4L1450 1159.2L1453.9 1180.6L1465.6 1200.1L1471.4 1217.6L1467.5 1239.1L1485 1244.9L1525.9 1244.9L1527.9 1260.5L1522 1270.2L1498.7 1280" stroke="#000" stroke-width="1.8" fill="none" stroke-linejoin="round"/>
<path d="M1411 1085.2L1416.9 1096.9L1436.3 1094.9L1453.9 1094.9L1461.7 1100.8L1467.5 1114.4L1475.3 1114.4L1487 1110.5L1500.6 1108.6L1514.3 1120.2L1522 1110.5L1529.8 1110.5L1541.5 1116.3L1553.2 1128L1561 1141.7L1568.8 1145.6L1578.5 1139.7L1582.4 1128L1578.5 1112.5L1580.5 1102.7L1598 1102.7L1609.7 1091L1620 1093" stroke="#000" stroke-width="1.8" fill="none" stroke-linejoin="round"/>
<path d="M1560 1141.4L1568.6 1145.7L1578.6 1141.4L1582.9 1131.4L1578.6 1112.9L1581.4 1104.3L1597.1 1102.9L1600 1097.1L1608.6 1090.7L1620 1094.3L1635.7 1099.3L1642.9 1094.3L1651.4 1092.9L1662.9 1091.4L1668.6 1085.7L1678.6 1084.3L1688.6 1082.9L1691.4 1072.9L1702.9 1070L1711.4 1065.7L1708.6 1061.4L1722.9 1062.9L1737.1 1061.4L1742.9 1052.9L1744.3 1045.7L1757.1 1040.7L1767.1 1032.9L1772.9 1024.3L1768.6 1005.7L1760 1000.7L1721.4 960" stroke="#000" stroke-width="1.8" fill="none" stroke-linejoin="round"/>
<path d="M1760 1000.7L1774.3 1002.9L1788.6 1001.4L1800 998.6" stroke="#000" stroke-width="1.8" fill="none" stroke-linejoin="round"/>
<path d="M1468 1240L1486.6 1245.8L1502.9 1243.5L1528.5 1247L1528.5 1260.9L1523.9 1270.2L1507.6 1272.6L1495.9 1281.9L1484.3 1285.4L1472.7 1284.2L1465.7 1290L1465.7 1307.5L1463.4 1314.5L1458.7 1320.3L1440.1 1337.7L1440.1 1326.1L1430.8 1328.4L1421.5 1335.4L1419.2 1342.4L1402.9 1349.4L1398.2 1347L1384.3 1354L1372.6 1358.7L1368 1365.6L1365.6 1377.3L1354 1378.4L1347 1386.6L1344.7 1395.9L1333.1 1400.5L1330.7 1393.6L1337.7 1381.9L1333.1 1372.6L1321.4 1370.3L1307.5 1374.9L1295.8 1386.6L1286.5 1388.9L1281.9 1394.7L1272.6 1391.2L1265.6 1393.6L1240 1370.3" stroke="#000" stroke-width="1.8" fill="none" stroke-linejoin="round"/>
<path d="M410.5 1434.8L424.4 1450.5L438.4 1452.2L452.3 1458.1" stroke="#000" stroke-width="1.8" fill="none" stroke-linejoin="round"/>
<path d="M935.7 1458.1L935.7 1406.8L972.3 1399.9L989.8 1394.6L1007.2 1403.3L1017.7 1399.9L1014.2 1378.9L1010.7 1370.2L998.5 1365L954.9 1363.2L954.9 1307.4L979.3 1302.8L995 1307.4L1104.9 1307.4L1094.5 1295.2L1099.7 1281.2L1111.9 1288.2L1118.9 1305.6L1136.3 1302.1L1150.3 1282.9L1167.8 1271.4L1174.7 1274.2L1195.7 1319.6L1199.2 1354.5L1216.6 1351L1240 1371.9" stroke="#000" stroke-width="1.8" fill="none" stroke-linejoin="round"/>
<path d="M1160.8 1180L1132.9 1211.4L1153.8 1214.9L1188.7 1249.8L1199.2 1288.2L1216.6 1337L1216.6 1351" stroke="#000" stroke-width="1.8" fill="none" stroke-linejoin="round"/>
<path d="M972.9 900L990.5 922.1L999.4 918.8L1006 924.3L1021.5 913.2L1043.5 915.5L1059 919.9L1078.9 914.4L1092.1 916.6L1105.4 911L1118.6 913.2L1134.1 904.4L1156.1 906.6L1167.2 915.5L1162.8 919.9L1169.4 930.9L1153.9 944.2L1149.5 957.4L1151.7 970.7L1134.1 983.9L1129.7 992.7L1134.1 1006L1131.9 1036.9L1128.5 1061.2L1136.3 1070L1136.3 1094.3L1149.5 1123L1160.6 1127.4L1169.4 1149.5L1180.4 1158.4L1171.6 1173.8L1134.1 1206.9L1138.5 1211.4L1151.7 1213.6L1156.1 1222.4L1176 1240.1" stroke="#000" stroke-width="1.8" fill="none" stroke-linejoin="round"/>
<path d="M1180.4 900L1176 906.6L1167.2 915.5L1176 919.9L1189.3 922.1L1191.5 935.3L1184.9 946.4L1187.1 955.2L1204.7 964L1220.2 957.4L1233.4 953L1253.3 949.7L1262.1 948.6L1288.6 956.3L1297.5 939.7L1306.3 924.3L1320 921" stroke="#000" stroke-width="1.8" fill="none" stroke-linejoin="round"/>
<path d="M1717 153.4L1724.3 151L1736 157.8L1743.3 161.6L1741.8 168L1750.6 182.6L1752 189.9L1747.7 194.3L1746.2 188.4L1730.1 185.5L1727.2 182.6L1733.1 178.2L1730.1 175.3L1721.4 165.1L1717 153.4" stroke="#000" stroke-width="1.8" fill="none" stroke-linejoin="round"/>
<path d="M1738.9 222L1744.7 223.5L1747.1 235.2L1744.7 246.9L1741.2 254.2L1731.6 248.3L1729.5 238.1L1733.1 229.3L1738.9 222" stroke="#000" stroke-width="1.8" fill="none" stroke-linejoin="round"/>
<path d="M1718.4 283.4L1724.3 284.8L1725.7 296.5L1722.8 303.8L1715.5 303.8L1711.1 296.5L1714.1 289.2L1718.4 283.4" stroke="#000" stroke-width="1.8" fill="none" stroke-linejoin="round"/>
<path d="M1712.6 317.6L1717.9 312.6L1717 317L1712.6 317.6" stroke="#000" stroke-width="1.8" fill="none" stroke-linejoin="round"/>
<path d="M1706.8 343.9L1709.1 339.2" stroke="#000" stroke-width="1.8" fill="none" stroke-linejoin="round"/>
<path d="M1692.1 362.3L1698 357.9L1698.6 365.2L1693.6 366.6L1692.1 362.3" stroke="#000" stroke-width="1.8" fill="none" stroke-linejoin="round"/>
<path d="M1670.2 404.6L1673.2 391.5L1679 384.2L1682.8 385.6L1683.4 394.4L1679 401.7L1670.2 404.6" stroke="#000" stroke-width="1.8" fill="none" stroke-linejoin="round"/>
<path d="M1854.3 289.2L1860.1 287.8L1866 298L1874.7 302.4L1868.9 311.1L1860.1 308.2L1855.8 300.9L1854.3 289.2" stroke="#000" stroke-width="1.8" fill="none" stroke-linejoin="round"/>
<path d="M1450 573.6L1471.4 571.4L1488.6 569.7L1492.9 562.9L1516.4 553.2L1525 557.5L1542.2 565L1548.6 560.7L1555 566.1L1561.4 573.6L1574.3 576.8L1587.2 573.6L1593.6 569.3L1591.4 557.5L1600 560.7L1608.6 573.6L1617.2 578.9L1627.9 575.7L1640.7 584.3L1655.7 593.9L1664.3 597.2L1672.9 595L1683.6 598.2L1679.3 590.7L1687.9 592.9L1698.6 603.6L1722.2 617.5L1730.8 617.5L1741.5 625L1754.3 636.8L1758.6 650.7L1756.5 670L1767.2 687.2L1762.9 697.9L1765 704.3L1784.3 708.6L1790.8 700L1814.3 703.2L1825.1 708.6L1842.2 732.2L1840.1 736.5" stroke="#000" stroke-width="1.8" fill="none" stroke-linejoin="round"/>
<path d="M1573.2 535L1574.3 543.6L1560.4 545.7L1559.3 556.4L1564.7 555.4L1565.7 546.8L1578.6 545.7L1591.4 552.1L1590.4 557.5" stroke="#000" stroke-width="1.8" fill="none" stroke-linejoin="round"/>
<path d="M1559.3 539.3L1573.2 535" stroke="#000" stroke-width="1.8" fill="none" stroke-linejoin="round"/>
<path d="M1627.9 576.8L1623.6 590.7L1621.5 601.4L1612.9 610L1608.6 622.9L1617.2 640L1621.5 657.2L1634.3 659.3L1638.6 670L1647.2 677.5L1642.9 689.3L1625.7 708.6L1595.7 716.1L1587.2 720.4L1582.9 714L1559.3 708.6L1555 702.2L1557.2 691.5L1565.7 688.2L1529.3 687.2L1525 667.9L1503.6 657.2L1492.9 648.6L1480 648.6L1473.6 640L1473.6 631.4L1486.4 619.7L1475.7 605.7L1477.9 592.9L1467.1 584.3L1465 574.7" stroke="#000" stroke-width="1.8" fill="none" stroke-linejoin="round"/>
<path d="M1756.5 641.1L1737.2 651.8L1726.5 662.5L1737.2 653.9L1728.6 670L1717.9 697.9L1713.6 704.3L1702.9 702.2L1679.3 701.1L1683.6 706.5L1709.3 719.3L1717.9 714L1732.9 711.8L1728.6 717.2" stroke="#000" stroke-width="1.8" fill="none" stroke-linejoin="round"/>
<path d="M1627.9 588.6L1634.3 603.6L1631.7 610" stroke="#000" stroke-width="1.8" fill="none" stroke-linejoin="round"/>
<path d="M1662.2 601.4L1670.7 614.3" stroke="#000" stroke-width="1.8" fill="none" stroke-linejoin="round"/>
</g>
<rect x="410" y="141.4" width="1679.5" height="1317.0" fill="none" stroke="#000" stroke-width="2.6"/>
<path d="M400 1458.4H410M400 1370.6H410M400 1282.8H410M400 1195H410M400 1107.2H410M400 1019.4H410M400 931.6H410M400 843.8H410M400 756H410M400 668.2H410M400 580.4H410M400 492.6H410M400 404.8H410M400 317H410M400 229.2H410M400 141.4H410M410 1458.4V1467.4M586.8 1458.4V1467.4M763.6 1458.4V1467.4M940.4 1458.4V1467.4M1117.2 1458.4V1467.4M1294 1458.4V1467.4M1470.8 1458.4V1467.4M1647.6 1458.4V1467.4M1824.4 1458.4V1467.4M2001.2 1458.4V1467.4" stroke="#000" stroke-width="2.6" fill="none"/>
<path d="M353.8 1448.9L353.8 1467.7M353.8 1448.9L366.6 1448.9M353.8 1457.9L361.7 1457.9M353.8 1467.7L366.6 1467.7M377.4 1448.9L375.4 1449.8L373.4 1451.6L372.5 1453.4L371.5 1456.1L371.5 1460.5L372.5 1463.2L373.4 1465.0L375.4 1466.8L377.4 1467.7L381.3 1467.7L383.2 1466.8L385.2 1465.0L386.2 1463.2L387.2 1460.5L387.2 1456.1L386.2 1453.4L385.2 1451.6L383.2 1449.8L381.3 1448.9L377.4 1448.9M380.3 1464.1L386.2 1469.5" fill="none" stroke="#000" stroke-width="1.9" stroke-linecap="round" stroke-linejoin="round"/>
<path d="M354.8 1364.7L356.8 1363.8L359.7 1361.1L359.7 1379.9M372.5 1361.1L372.5 1379.9M372.5 1361.1L386.2 1379.9M386.2 1361.1L386.2 1379.9" fill="none" stroke="#000" stroke-width="1.9" stroke-linecap="round" stroke-linejoin="round"/>
<path d="M352.9 1277.8L352.9 1276.9L353.8 1275.1L354.8 1274.2L356.8 1273.3L360.7 1273.3L362.7 1274.2L363.6 1275.1L364.6 1276.9L364.6 1278.7L363.6 1280.5L361.7 1283.2L351.9 1292.1L365.6 1292.1M372.5 1273.3L372.5 1292.1M372.5 1273.3L386.2 1292.1M386.2 1273.3L386.2 1292.1" fill="none" stroke="#000" stroke-width="1.9" stroke-linecap="round" stroke-linejoin="round"/>
<path d="M353.8 1185.5L364.6 1185.5L358.7 1192.7L361.7 1192.7L363.6 1193.6L364.6 1194.5L365.6 1197.1L365.6 1198.9L364.6 1201.6L362.7 1203.4L359.7 1204.3L356.8 1204.3L353.8 1203.4L352.9 1202.5L351.9 1200.7M372.5 1185.5L372.5 1204.3M372.5 1185.5L386.2 1204.3M386.2 1185.5L386.2 1204.3" fill="none" stroke="#000" stroke-width="1.9" stroke-linecap="round" stroke-linejoin="round"/>
<path d="M361.7 1097.7L351.9 1110.2L366.6 1110.2M361.7 1097.7L361.7 1116.5M372.5 1097.7L372.5 1116.5M372.5 1097.7L386.2 1116.5M386.2 1097.7L386.2 1116.5" fill="none" stroke="#000" stroke-width="1.9" stroke-linecap="round" stroke-linejoin="round"/>
<path d="M363.6 1009.9L353.8 1009.9L352.9 1018.0L353.8 1017.1L356.8 1016.2L359.7 1016.2L362.7 1017.1L364.6 1018.9L365.6 1021.5L365.6 1023.3L364.6 1026.0L362.7 1027.8L359.7 1028.7L356.8 1028.7L353.8 1027.8L352.9 1026.9L351.9 1025.1M372.5 1009.9L372.5 1028.7M372.5 1009.9L386.2 1028.7M386.2 1009.9L386.2 1028.7" fill="none" stroke="#000" stroke-width="1.9" stroke-linecap="round" stroke-linejoin="round"/>
<path d="M364.6 924.8L363.6 923.0L360.7 922.1L358.7 922.1L355.8 923.0L353.8 925.7L352.9 930.2L352.9 934.6L353.8 938.2L355.8 940.0L358.7 940.9L359.7 940.9L362.7 940.0L364.6 938.2L365.6 935.5L365.6 934.6L364.6 932.0L362.7 930.2L359.7 929.3L358.7 929.3L355.8 930.2L353.8 932.0L352.9 934.6M372.5 922.1L372.5 940.9M372.5 922.1L386.2 940.9M386.2 922.1L386.2 940.9" fill="none" stroke="#000" stroke-width="1.9" stroke-linecap="round" stroke-linejoin="round"/>
<path d="M365.6 834.3L355.8 853.1M351.9 834.3L365.6 834.3M372.5 834.3L372.5 853.1M372.5 834.3L386.2 853.1M386.2 834.3L386.2 853.1" fill="none" stroke="#000" stroke-width="1.9" stroke-linecap="round" stroke-linejoin="round"/>
<path d="M356.8 746.5L353.8 747.4L352.9 749.2L352.9 751.0L353.8 752.8L355.8 753.7L359.7 754.6L362.7 755.5L364.6 757.2L365.6 759.0L365.6 761.7L364.6 763.5L363.6 764.4L360.7 765.3L356.8 765.3L353.8 764.4L352.9 763.5L351.9 761.7L351.9 759.0L352.9 757.2L354.8 755.5L357.8 754.6L361.7 753.7L363.6 752.8L364.6 751.0L364.6 749.2L363.6 747.4L360.7 746.5L356.8 746.5M372.5 746.5L372.5 765.3M372.5 746.5L386.2 765.3M386.2 746.5L386.2 765.3" fill="none" stroke="#000" stroke-width="1.9" stroke-linecap="round" stroke-linejoin="round"/>
<path d="M364.6 665.0L363.6 667.7L361.7 669.4L358.7 670.3L357.8 670.3L354.8 669.4L352.9 667.7L351.9 665.0L351.9 664.1L352.9 661.4L354.8 659.6L357.8 658.7L358.7 658.7L361.7 659.6L363.6 661.4L364.6 665.0L364.6 669.4L363.6 673.9L361.7 676.6L358.7 677.5L356.8 677.5L353.8 676.6L352.9 674.8M372.5 658.7L372.5 677.5M372.5 658.7L386.2 677.5M386.2 658.7L386.2 677.5" fill="none" stroke="#000" stroke-width="1.9" stroke-linecap="round" stroke-linejoin="round"/>
<path d="M335.2 574.5L337.2 573.6L340.1 570.9L340.1 589.7M357.8 570.9L354.8 571.8L352.9 574.5L351.9 579.0L351.9 581.6L352.9 586.1L354.8 588.8L357.8 589.7L359.7 589.7L362.7 588.8L364.6 586.1L365.6 581.6L365.6 579.0L364.6 574.5L362.7 571.8L359.7 570.9L357.8 570.9M372.5 570.9L372.5 589.7M372.5 570.9L386.2 589.7M386.2 570.9L386.2 589.7" fill="none" stroke="#000" stroke-width="1.9" stroke-linecap="round" stroke-linejoin="round"/>
<path d="M335.2 486.7L337.2 485.8L340.1 483.1L340.1 501.9M354.8 486.7L356.8 485.8L359.7 483.1L359.7 501.9M372.5 483.1L372.5 501.9M372.5 483.1L386.2 501.9M386.2 483.1L386.2 501.9" fill="none" stroke="#000" stroke-width="1.9" stroke-linecap="round" stroke-linejoin="round"/>
<path d="M335.2 398.9L337.2 398.0L340.1 395.3L340.1 414.1M352.9 399.8L352.9 398.9L353.8 397.1L354.8 396.2L356.8 395.3L360.7 395.3L362.7 396.2L363.6 397.1L364.6 398.9L364.6 400.7L363.6 402.5L361.7 405.2L351.9 414.1L365.6 414.1M372.5 395.3L372.5 414.1M372.5 395.3L386.2 414.1M386.2 395.3L386.2 414.1" fill="none" stroke="#000" stroke-width="1.9" stroke-linecap="round" stroke-linejoin="round"/>
<path d="M335.2 311.1L337.2 310.2L340.1 307.5L340.1 326.3M353.8 307.5L364.6 307.5L358.7 314.7L361.7 314.7L363.6 315.6L364.6 316.5L365.6 319.1L365.6 320.9L364.6 323.6L362.7 325.4L359.7 326.3L356.8 326.3L353.8 325.4L352.9 324.5L351.9 322.7M372.5 307.5L372.5 326.3M372.5 307.5L386.2 326.3M386.2 307.5L386.2 326.3" fill="none" stroke="#000" stroke-width="1.9" stroke-linecap="round" stroke-linejoin="round"/>
<path d="M335.2 223.3L337.2 222.4L340.1 219.7L340.1 238.5M361.7 219.7L351.9 232.2L366.6 232.2M361.7 219.7L361.7 238.5M372.5 219.7L372.5 238.5M372.5 219.7L386.2 238.5M386.2 219.7L386.2 238.5" fill="none" stroke="#000" stroke-width="1.9" stroke-linecap="round" stroke-linejoin="round"/>
<path d="M335.2 135.5L337.2 134.6L340.1 131.9L340.1 150.7M363.6 131.9L353.8 131.9L352.9 140.0L353.8 139.1L356.8 138.2L359.7 138.2L362.7 139.1L364.6 140.9L365.6 143.5L365.6 145.3L364.6 148.0L362.7 149.8L359.7 150.7L356.8 150.7L353.8 149.8L352.9 148.9L351.9 147.1M372.5 131.9L372.5 150.7M372.5 131.9L386.2 150.7M386.2 131.9L386.2 150.7" fill="none" stroke="#000" stroke-width="1.9" stroke-linecap="round" stroke-linejoin="round"/>
<path d="M395.3 1474.5L385.5 1493.3M381.6 1474.5L395.3 1474.5M413.9 1477.2L412.9 1475.4L410.0 1474.5L408.0 1474.5L405.1 1475.4L403.1 1478.1L402.2 1482.6L402.2 1487.0L403.1 1490.6L405.1 1492.4L408.0 1493.3L409.0 1493.3L412.0 1492.4L413.9 1490.6L414.9 1487.9L414.9 1487.0L413.9 1484.3L412.0 1482.6L409.0 1481.7L408.0 1481.7L405.1 1482.6L403.1 1484.3L402.2 1487.0M419.8 1474.5L424.7 1493.3M429.6 1474.5L424.7 1493.3M429.6 1474.5L434.5 1493.3M439.4 1474.5L434.5 1493.3" fill="none" stroke="#000" stroke-width="1.9" stroke-linecap="round" stroke-linejoin="round"/>
<path d="M572.1 1474.5L562.3 1493.3M558.4 1474.5L572.1 1474.5M587.8 1474.5L578.0 1487.0L592.7 1487.0M587.8 1474.5L587.8 1493.3M596.6 1474.5L601.5 1493.3M606.4 1474.5L601.5 1493.3M606.4 1474.5L611.3 1493.3M616.2 1474.5L611.3 1493.3" fill="none" stroke="#000" stroke-width="1.9" stroke-linecap="round" stroke-linejoin="round"/>
<path d="M748.9 1474.5L739.1 1493.3M735.2 1474.5L748.9 1474.5M755.8 1479.0L755.8 1478.1L756.7 1476.3L757.7 1475.4L759.7 1474.5L763.6 1474.5L765.6 1475.4L766.5 1476.3L767.5 1478.1L767.5 1479.9L766.5 1481.7L764.6 1484.3L754.8 1493.3L768.5 1493.3M773.4 1474.5L778.3 1493.3M783.2 1474.5L778.3 1493.3M783.2 1474.5L788.1 1493.3M793.0 1474.5L788.1 1493.3" fill="none" stroke="#000" stroke-width="1.9" stroke-linecap="round" stroke-linejoin="round"/>
<path d="M925.7 1474.5L915.9 1493.3M912.0 1474.5L925.7 1474.5M937.5 1474.5L934.5 1475.4L932.6 1478.1L931.6 1482.6L931.6 1485.2L932.6 1489.7L934.5 1492.4L937.5 1493.3L939.4 1493.3L942.4 1492.4L944.3 1489.7L945.3 1485.2L945.3 1482.6L944.3 1478.1L942.4 1475.4L939.4 1474.5L937.5 1474.5M950.2 1474.5L955.1 1493.3M960.0 1474.5L955.1 1493.3M960.0 1474.5L964.9 1493.3M969.8 1474.5L964.9 1493.3" fill="none" stroke="#000" stroke-width="1.9" stroke-linecap="round" stroke-linejoin="round"/>
<path d="M1101.5 1477.2L1100.5 1475.4L1097.6 1474.5L1095.6 1474.5L1092.7 1475.4L1090.7 1478.1L1089.8 1482.6L1089.8 1487.0L1090.7 1490.6L1092.7 1492.4L1095.6 1493.3L1096.6 1493.3L1099.6 1492.4L1101.5 1490.6L1102.5 1487.9L1102.5 1487.0L1101.5 1484.3L1099.6 1482.6L1096.6 1481.7L1095.6 1481.7L1092.7 1482.6L1090.7 1484.3L1089.8 1487.0M1113.3 1474.5L1110.3 1475.4L1109.4 1477.2L1109.4 1479.0L1110.3 1480.8L1112.3 1481.7L1116.2 1482.6L1119.2 1483.5L1121.1 1485.2L1122.1 1487.0L1122.1 1489.7L1121.1 1491.5L1120.1 1492.4L1117.2 1493.3L1113.3 1493.3L1110.3 1492.4L1109.4 1491.5L1108.4 1489.7L1108.4 1487.0L1109.4 1485.2L1111.3 1483.5L1114.3 1482.6L1118.2 1481.7L1120.1 1480.8L1121.1 1479.0L1121.1 1477.2L1120.1 1475.4L1117.2 1474.5L1113.3 1474.5M1127.0 1474.5L1131.9 1493.3M1136.8 1474.5L1131.9 1493.3M1136.8 1474.5L1141.7 1493.3M1146.6 1474.5L1141.7 1493.3" fill="none" stroke="#000" stroke-width="1.9" stroke-linecap="round" stroke-linejoin="round"/>
<path d="M1278.3 1477.2L1277.3 1475.4L1274.4 1474.5L1272.4 1474.5L1269.5 1475.4L1267.5 1478.1L1266.6 1482.6L1266.6 1487.0L1267.5 1490.6L1269.5 1492.4L1272.4 1493.3L1273.4 1493.3L1276.4 1492.4L1278.3 1490.6L1279.3 1487.9L1279.3 1487.0L1278.3 1484.3L1276.4 1482.6L1273.4 1481.7L1272.4 1481.7L1269.5 1482.6L1267.5 1484.3L1266.6 1487.0M1297.9 1477.2L1296.9 1475.4L1294.0 1474.5L1292.0 1474.5L1289.1 1475.4L1287.1 1478.1L1286.2 1482.6L1286.2 1487.0L1287.1 1490.6L1289.1 1492.4L1292.0 1493.3L1293.0 1493.3L1296.0 1492.4L1297.9 1490.6L1298.9 1487.9L1298.9 1487.0L1297.9 1484.3L1296.0 1482.6L1293.0 1481.7L1292.0 1481.7L1289.1 1482.6L1287.1 1484.3L1286.2 1487.0M1303.8 1474.5L1308.7 1493.3M1313.6 1474.5L1308.7 1493.3M1313.6 1474.5L1318.5 1493.3M1323.4 1474.5L1318.5 1493.3" fill="none" stroke="#000" stroke-width="1.9" stroke-linecap="round" stroke-linejoin="round"/>
<path d="M1455.1 1477.2L1454.1 1475.4L1451.2 1474.5L1449.2 1474.5L1446.3 1475.4L1444.3 1478.1L1443.4 1482.6L1443.4 1487.0L1444.3 1490.6L1446.3 1492.4L1449.2 1493.3L1450.2 1493.3L1453.2 1492.4L1455.1 1490.6L1456.1 1487.9L1456.1 1487.0L1455.1 1484.3L1453.2 1482.6L1450.2 1481.7L1449.2 1481.7L1446.3 1482.6L1444.3 1484.3L1443.4 1487.0M1471.8 1474.5L1462.0 1487.0L1476.7 1487.0M1471.8 1474.5L1471.8 1493.3M1480.6 1474.5L1485.5 1493.3M1490.4 1474.5L1485.5 1493.3M1490.4 1474.5L1495.3 1493.3M1500.2 1474.5L1495.3 1493.3" fill="none" stroke="#000" stroke-width="1.9" stroke-linecap="round" stroke-linejoin="round"/>
<path d="M1631.9 1477.2L1630.9 1475.4L1628.0 1474.5L1626.0 1474.5L1623.1 1475.4L1621.1 1478.1L1620.2 1482.6L1620.2 1487.0L1621.1 1490.6L1623.1 1492.4L1626.0 1493.3L1627.0 1493.3L1630.0 1492.4L1631.9 1490.6L1632.9 1487.9L1632.9 1487.0L1631.9 1484.3L1630.0 1482.6L1627.0 1481.7L1626.0 1481.7L1623.1 1482.6L1621.1 1484.3L1620.2 1487.0M1639.8 1479.0L1639.8 1478.1L1640.7 1476.3L1641.7 1475.4L1643.7 1474.5L1647.6 1474.5L1649.6 1475.4L1650.5 1476.3L1651.5 1478.1L1651.5 1479.9L1650.5 1481.7L1648.6 1484.3L1638.8 1493.3L1652.5 1493.3M1657.4 1474.5L1662.3 1493.3M1667.2 1474.5L1662.3 1493.3M1667.2 1474.5L1672.1 1493.3M1677.0 1474.5L1672.1 1493.3" fill="none" stroke="#000" stroke-width="1.9" stroke-linecap="round" stroke-linejoin="round"/>
<path d="M1808.7 1477.2L1807.7 1475.4L1804.8 1474.5L1802.8 1474.5L1799.9 1475.4L1797.9 1478.1L1797.0 1482.6L1797.0 1487.0L1797.9 1490.6L1799.9 1492.4L1802.8 1493.3L1803.8 1493.3L1806.8 1492.4L1808.7 1490.6L1809.7 1487.9L1809.7 1487.0L1808.7 1484.3L1806.8 1482.6L1803.8 1481.7L1802.8 1481.7L1799.9 1482.6L1797.9 1484.3L1797.0 1487.0M1821.5 1474.5L1818.5 1475.4L1816.6 1478.1L1815.6 1482.6L1815.6 1485.2L1816.6 1489.7L1818.5 1492.4L1821.5 1493.3L1823.4 1493.3L1826.4 1492.4L1828.3 1489.7L1829.3 1485.2L1829.3 1482.6L1828.3 1478.1L1826.4 1475.4L1823.4 1474.5L1821.5 1474.5M1834.2 1474.5L1839.1 1493.3M1844.0 1474.5L1839.1 1493.3M1844.0 1474.5L1848.9 1493.3M1853.8 1474.5L1848.9 1493.3" fill="none" stroke="#000" stroke-width="1.9" stroke-linecap="round" stroke-linejoin="round"/>
<path d="M1984.5 1474.5L1974.7 1474.5L1973.8 1482.6L1974.7 1481.7L1977.7 1480.8L1980.6 1480.8L1983.6 1481.7L1985.5 1483.5L1986.5 1486.1L1986.5 1487.9L1985.5 1490.6L1983.6 1492.4L1980.6 1493.3L1977.7 1493.3L1974.7 1492.4L1973.8 1491.5L1972.8 1489.7M1997.3 1474.5L1994.3 1475.4L1993.4 1477.2L1993.4 1479.0L1994.3 1480.8L1996.3 1481.7L2000.2 1482.6L2003.2 1483.5L2005.1 1485.2L2006.1 1487.0L2006.1 1489.7L2005.1 1491.5L2004.1 1492.4L2001.2 1493.3L1997.3 1493.3L1994.3 1492.4L1993.4 1491.5L1992.4 1489.7L1992.4 1487.0L1993.4 1485.2L1995.3 1483.5L1998.3 1482.6L2002.2 1481.7L2004.1 1480.8L2005.1 1479.0L2005.1 1477.2L2004.1 1475.4L2001.2 1474.5L1997.3 1474.5M2011.0 1474.5L2015.9 1493.3M2020.8 1474.5L2015.9 1493.3M2020.8 1474.5L2025.7 1493.3M2030.6 1474.5L2025.7 1493.3" fill="none" stroke="#000" stroke-width="1.9" stroke-linecap="round" stroke-linejoin="round"/>
<path d="M244.1 5.4L230.3 32.4M244.1 5.4L258.0 32.4M235.5 23.4L252.8 23.4M266.6 14.4L266.6 32.4M266.6 19.5L271.8 15.7L275.2 14.4L280.4 14.4L283.9 15.7L285.6 19.5L285.6 32.4M306.3 14.4L302.9 15.7L299.4 18.3L297.7 22.1L297.7 24.7L299.4 28.5L302.9 31.1L306.3 32.4L311.5 32.4L315.0 31.1L318.4 28.5L320.2 24.7L320.2 22.1L318.4 18.3L315.0 15.7L311.5 14.4L306.3 14.4M332.3 14.4L332.3 32.4M332.3 19.5L337.4 15.7L340.9 14.4L346.1 14.4L349.5 15.7L351.3 19.5L351.3 32.4M351.3 19.5L356.5 15.7L359.9 14.4L365.1 14.4L368.6 15.7L370.3 19.5L370.3 32.4M403.1 14.4L403.1 32.4M403.1 18.3L399.7 15.7L396.2 14.4L391.0 14.4L387.6 15.7L384.1 18.3L382.4 22.1L382.4 24.7L384.1 28.5L387.6 31.1L391.0 32.4L396.2 32.4L399.7 31.1L403.1 28.5M416.9 5.4L416.9 32.4M429.0 5.4L430.8 6.7L432.5 5.4L430.8 4.1L429.0 5.4M430.8 14.4L430.8 32.4M463.6 14.4L463.6 32.4M463.6 18.3L460.2 15.7L456.7 14.4L451.5 14.4L448.1 15.7L444.6 18.3L442.9 22.1L442.9 24.7L444.6 28.5L448.1 31.1L451.5 32.4L456.7 32.4L460.2 31.1L463.6 28.5M524.1 5.4L524.1 32.4M524.1 18.3L520.6 15.7L517.2 14.4L512.0 14.4L508.5 15.7L505.1 18.3L503.4 22.1L503.4 24.7L505.1 28.5L508.5 31.1L512.0 32.4L517.2 32.4L520.6 31.1L524.1 28.5M536.2 22.1L556.9 22.1L556.9 19.5L555.2 17.0L553.5 15.7L550.0 14.4L544.8 14.4L541.4 15.7L537.9 18.3L536.2 22.1L536.2 24.7L537.9 28.5L541.4 31.1L544.8 32.4L550.0 32.4L553.5 31.1L556.9 28.5M596.7 5.4L596.7 32.4M596.7 5.4L612.2 5.4L617.4 6.7L619.2 8.0L620.9 10.6L620.9 14.4L619.2 17.0L617.4 18.3L612.2 19.5L596.7 19.5M633.0 14.4L633.0 32.4M633.0 22.1L634.7 18.3L638.2 15.7L641.6 14.4L646.8 14.4M653.7 22.1L674.5 22.1L674.5 19.5L672.7 17.0L671.0 15.7L667.5 14.4L662.4 14.4L658.9 15.7L655.4 18.3L653.7 22.1L653.7 24.7L655.4 28.5L658.9 31.1L662.4 32.4L667.5 32.4L671.0 31.1L674.5 28.5M705.6 18.3L702.1 15.7L698.6 14.4L693.5 14.4L690.0 15.7L686.6 18.3L684.8 22.1L684.8 24.7L686.6 28.5L690.0 31.1L693.5 32.4L698.6 32.4L702.1 31.1L705.6 28.5M715.9 5.4L717.7 6.7L719.4 5.4L717.7 4.1L715.9 5.4M717.7 14.4L717.7 32.4M731.5 14.4L731.5 41.4M731.5 18.3L734.9 15.7L738.4 14.4L743.6 14.4L747.0 15.7L750.5 18.3L752.2 22.1L752.2 24.7L750.5 28.5L747.0 31.1L743.6 32.4L738.4 32.4L734.9 31.1L731.5 28.5M762.6 5.4L764.3 6.7L766.0 5.4L764.3 4.1L762.6 5.4M764.3 14.4L764.3 32.4M779.9 5.4L779.9 27.3L781.6 31.1L785.1 32.4L788.5 32.4M774.7 14.4L786.8 14.4M817.9 14.4L817.9 32.4M817.9 18.3L814.4 15.7L811.0 14.4L805.8 14.4L802.3 15.7L798.9 18.3L797.2 22.1L797.2 24.7L798.9 28.5L802.3 31.1L805.8 32.4L811.0 32.4L814.4 31.1L817.9 28.5M850.7 18.3L847.3 15.7L843.8 14.4L838.6 14.4L835.2 15.7L831.7 18.3L830.0 22.1L830.0 24.7L831.7 28.5L835.2 31.1L838.6 32.4L843.8 32.4L847.3 31.1L850.7 28.5M861.1 5.4L862.8 6.7L864.6 5.4L862.8 4.1L861.1 5.4M862.8 14.4L862.8 32.4M883.6 14.4L880.1 15.7L876.7 18.3L874.9 22.1L874.9 24.7L876.7 28.5L880.1 31.1L883.6 32.4L888.8 32.4L892.2 31.1L895.7 28.5L897.4 24.7L897.4 22.1L895.7 18.3L892.2 15.7L888.8 14.4L883.6 14.4M909.5 14.4L909.5 32.4M909.5 19.5L914.7 15.7L918.1 14.4L923.3 14.4L926.8 15.7L928.5 19.5L928.5 32.4M992.4 9.3L989.0 6.7L983.8 5.4L976.9 5.4L971.7 6.7L968.3 9.3L968.3 11.8L970.0 14.4L971.7 15.7L975.2 17.0L985.5 19.5L989.0 20.8L990.7 22.1L992.4 24.7L992.4 28.5L989.0 31.1L983.8 32.4L976.9 32.4L971.7 31.1L968.3 28.5M1002.8 22.1L1023.6 22.1L1023.6 19.5L1021.8 17.0L1020.1 15.7L1016.6 14.4L1011.5 14.4L1008.0 15.7L1004.5 18.3L1002.8 22.1L1002.8 24.7L1004.5 28.5L1008.0 31.1L1011.5 32.4L1016.6 32.4L1020.1 31.1L1023.6 28.5M1035.7 14.4L1035.7 32.4M1035.7 19.5L1040.8 15.7L1044.3 14.4L1049.5 14.4L1052.9 15.7L1054.7 19.5L1054.7 32.4M1054.7 19.5L1059.8 15.7L1063.3 14.4L1068.5 14.4L1071.9 15.7L1073.7 19.5L1073.7 32.4M1106.5 14.4L1106.5 32.4M1106.5 18.3L1103.1 15.7L1099.6 14.4L1094.4 14.4L1091.0 15.7L1087.5 18.3L1085.8 22.1L1085.8 24.7L1087.5 28.5L1091.0 31.1L1094.4 32.4L1099.6 32.4L1103.1 31.1L1106.5 28.5M1120.3 14.4L1120.3 32.4M1120.3 19.5L1125.5 15.7L1129.0 14.4L1134.2 14.4L1137.6 15.7L1139.3 19.5L1139.3 32.4M1172.2 14.4L1172.2 32.4M1172.2 18.3L1168.7 15.7L1165.3 14.4L1160.1 14.4L1156.6 15.7L1153.2 18.3L1151.4 22.1L1151.4 24.7L1153.2 28.5L1156.6 31.1L1160.1 32.4L1165.3 32.4L1168.7 31.1L1172.2 28.5M1215.4 5.4L1234.4 5.4L1224.0 15.7L1229.2 15.7L1232.7 17.0L1234.4 18.3L1236.1 22.1L1236.1 24.7L1234.4 28.5L1230.9 31.1L1225.8 32.4L1220.6 32.4L1215.4 31.1L1213.7 29.8L1211.9 27.3M1251.7 10.6L1255.1 9.3L1260.3 5.4L1260.3 32.4M1310.4 0.3L1279.3 41.4M1329.5 5.4L1324.3 6.7L1320.8 10.6L1319.1 17.0L1319.1 20.8L1320.8 27.3L1324.3 31.1L1329.5 32.4L1332.9 32.4L1338.1 31.1L1341.5 27.3L1343.3 20.8L1343.3 17.0L1341.5 10.6L1338.1 6.7L1332.9 5.4L1329.5 5.4M1358.8 10.6L1362.3 9.3L1367.5 5.4L1367.5 32.4M1417.6 0.3L1386.5 41.4M1428.0 11.8L1428.0 10.6L1429.7 8.0L1431.4 6.7L1434.9 5.4L1441.8 5.4L1445.2 6.7L1447.0 8.0L1448.7 10.6L1448.7 13.1L1447.0 15.7L1443.5 19.5L1426.2 32.4L1450.4 32.4M1471.2 5.4L1466.0 6.7L1462.5 10.6L1460.8 17.0L1460.8 20.8L1462.5 27.3L1466.0 31.1L1471.2 32.4L1474.6 32.4L1479.8 31.1L1483.3 27.3L1485.0 20.8L1485.0 17.0L1483.3 10.6L1479.8 6.7L1474.6 5.4L1471.2 5.4M1497.1 11.8L1497.1 10.6L1498.8 8.0L1500.5 6.7L1504.0 5.4L1510.9 5.4L1514.4 6.7L1516.1 8.0L1517.8 10.6L1517.8 13.1L1516.1 15.7L1512.6 19.5L1495.4 32.4L1519.6 32.4M1531.7 11.8L1531.7 10.6L1533.4 8.0L1535.1 6.7L1538.6 5.4L1545.5 5.4L1548.9 6.7L1550.7 8.0L1552.4 10.6L1552.4 13.1L1550.7 15.7L1547.2 19.5L1529.9 32.4L1554.1 32.4M1612.9 14.4L1612.9 32.4M1612.9 18.3L1609.4 15.7L1606.0 14.4L1600.8 14.4L1597.3 15.7L1593.9 18.3L1592.1 22.1L1592.1 24.7L1593.9 28.5L1597.3 31.1L1600.8 32.4L1606.0 32.4L1609.4 31.1L1612.9 28.5M1626.7 5.4L1626.7 32.4M1676.8 5.4L1671.6 6.7L1668.2 10.6L1666.5 17.0L1666.5 20.8L1668.2 27.3L1671.6 31.1L1676.8 32.4L1680.3 32.4L1685.5 31.1L1688.9 27.3L1690.7 20.8L1690.7 17.0L1688.9 10.6L1685.5 6.7L1680.3 5.4L1676.8 5.4M1723.5 9.3L1721.8 6.7L1716.6 5.4L1713.1 5.4L1707.9 6.7L1704.5 10.6L1702.7 17.0L1702.7 23.4L1704.5 28.5L1707.9 31.1L1713.1 32.4L1714.8 32.4L1720.0 31.1L1723.5 28.5L1725.2 24.7L1725.2 23.4L1723.5 19.5L1720.0 17.0L1714.8 15.7L1713.1 15.7L1707.9 17.0L1704.5 19.5L1702.7 23.4M1765.0 0.3L1733.9 41.4M1784.0 5.4L1778.8 6.7L1775.3 10.6L1773.6 17.0L1773.6 20.8L1775.3 27.3L1778.8 31.1L1784.0 32.4L1787.4 32.4L1792.6 31.1L1796.1 27.3L1797.8 20.8L1797.8 17.0L1796.1 10.6L1792.6 6.7L1787.4 5.4L1784.0 5.4M1809.9 11.8L1809.9 10.6L1811.6 8.0L1813.4 6.7L1816.8 5.4L1823.7 5.4L1827.2 6.7L1828.9 8.0L1830.6 10.6L1830.6 13.1L1828.9 15.7L1825.5 19.5L1808.2 32.4L1832.4 32.4M1872.1 0.3L1841.0 41.4M1882.5 11.8L1882.5 10.6L1884.2 8.0L1885.9 6.7L1889.4 5.4L1896.3 5.4L1899.8 6.7L1901.5 8.0L1903.2 10.6L1903.2 13.1L1901.5 15.7L1898.0 19.5L1880.8 32.4L1905.0 32.4M1925.7 5.4L1920.5 6.7L1917.0 10.6L1915.3 17.0L1915.3 20.8L1917.0 27.3L1920.5 31.1L1925.7 32.4L1929.1 32.4L1934.3 31.1L1937.8 27.3L1939.5 20.8L1939.5 17.0L1937.8 10.6L1934.3 6.7L1929.1 5.4L1925.7 5.4M1951.6 11.8L1951.6 10.6L1953.3 8.0L1955.1 6.7L1958.5 5.4L1965.4 5.4L1968.9 6.7L1970.6 8.0L1972.4 10.6L1972.4 13.1L1970.6 15.7L1967.2 19.5L1949.9 32.4L1974.1 32.4M1986.2 11.8L1986.2 10.6L1987.9 8.0L1989.6 6.7L1993.1 5.4L2000.0 5.4L2003.5 6.7L2005.2 8.0L2006.9 10.6L2006.9 13.1L2005.2 15.7L2001.7 19.5L1984.4 32.4L2008.6 32.4M2060.5 0.3L2057.0 2.8L2053.6 6.7L2050.1 11.8L2048.4 18.3L2048.4 23.4L2050.1 29.8L2053.6 35.0L2057.0 38.8L2060.5 41.4M2072.6 14.4L2072.6 32.4M2072.6 19.5L2077.8 15.7L2081.2 14.4L2086.4 14.4L2089.9 15.7L2091.6 19.5L2091.6 32.4M2091.6 19.5L2096.8 15.7L2100.2 14.4L2105.4 14.4L2108.9 15.7L2110.6 19.5L2110.6 32.4M2124.4 14.4L2124.4 32.4M2124.4 19.5L2129.6 15.7L2133.1 14.4L2138.3 14.4L2141.7 15.7L2143.4 19.5L2143.4 32.4M2143.4 19.5L2148.6 15.7L2152.1 14.4L2157.3 14.4L2160.7 15.7L2162.5 19.5L2162.5 32.4M2222.9 5.4L2222.9 32.4M2222.9 18.3L2219.5 15.7L2216.0 14.4L2210.8 14.4L2207.4 15.7L2203.9 18.3L2202.2 22.1L2202.2 24.7L2203.9 28.5L2207.4 31.1L2210.8 32.4L2216.0 32.4L2219.5 31.1L2222.9 28.5M2235.0 22.1L2255.8 22.1L2255.8 19.5L2254.1 17.0L2252.3 15.7L2248.9 14.4L2243.7 14.4L2240.2 15.7L2236.8 18.3L2235.0 22.1L2235.0 24.7L2236.8 28.5L2240.2 31.1L2243.7 32.4L2248.9 32.4L2252.3 31.1L2255.8 28.5M2295.5 5.4L2295.5 32.4M2309.4 5.4L2309.4 32.4M2323.2 14.4L2323.2 27.3L2324.9 31.1L2328.4 32.4L2333.6 32.4L2337.0 31.1L2342.2 27.3M2342.2 14.4L2342.2 32.4M2352.6 14.4L2362.9 32.4M2373.3 14.4L2362.9 32.4M2381.9 5.4L2383.7 6.7L2385.4 5.4L2383.7 4.1L2381.9 5.4M2383.7 14.4L2383.7 32.4M2416.5 14.4L2416.5 32.4M2416.5 18.3L2413.0 15.7L2409.6 14.4L2404.4 14.4L2401.0 15.7L2397.5 18.3L2395.8 22.1L2395.8 24.7L2397.5 28.5L2401.0 31.1L2404.4 32.4L2409.6 32.4L2413.0 31.1L2416.5 28.5M2428.6 0.3L2432.1 2.8L2435.5 6.7L2439.0 11.8L2440.7 18.3L2440.7 23.4L2439.0 29.8L2435.5 35.0L2432.1 38.8L2428.6 41.4" fill="none" stroke="#000" stroke-width="2.0" stroke-linecap="round" stroke-linejoin="round"/>
<path d="M683.5 66.6L692.7 84.8M701.9 66.6L692.7 84.8M707.7 66.6L707.7 84.8M707.7 66.6L722.7 66.6M707.7 75.3L716.9 75.3M707.7 84.8L722.7 84.8M729.6 66.6L729.6 84.8M729.6 66.6L745.7 84.8M745.7 66.6L745.7 84.8M754.9 66.6L754.9 84.8M754.9 66.6L769.9 66.6M754.9 75.3L764.2 75.3M754.9 84.8L769.9 84.8M791.8 66.6L775.7 84.8M775.7 66.6L791.8 66.6M775.7 84.8L791.8 84.8M799.9 66.6L799.9 79.6L801.0 82.2L803.3 83.9L806.8 84.8L809.1 84.8L812.6 83.9L814.9 82.2L816.0 79.6L816.0 66.6M825.2 66.6L825.2 84.8M825.2 66.6L840.2 66.6M825.2 75.3L834.4 75.3M825.2 84.8L840.2 84.8M847.1 66.6L847.1 84.8M847.1 84.8L861.0 84.8M872.5 66.6L863.3 84.8M872.5 66.6L881.7 84.8M866.7 78.7L878.2 78.7M905.9 77.0L926.6 77.0M954.3 66.6L954.3 79.6L955.4 82.2L957.7 83.9L961.2 84.8L963.5 84.8L967.0 83.9L969.3 82.2L970.4 79.6L970.4 66.6M995.8 71.0L994.6 69.2L992.3 67.5L990.0 66.6L985.4 66.6L983.1 67.5L980.8 69.2L979.6 71.0L978.5 73.6L978.5 77.9L979.6 80.5L980.8 82.2L983.1 83.9L985.4 84.8L990.0 84.8L992.3 83.9L994.6 82.2L995.8 80.5M1000.4 66.6L1009.6 84.8M1018.8 66.6L1009.6 84.8M1043.0 77.0L1063.8 77.0M1091.4 66.6L1091.4 84.8M1091.4 66.6L1099.5 66.6L1102.9 67.5L1105.2 69.2L1106.4 71.0L1107.5 73.6L1107.5 77.9L1106.4 80.5L1105.2 82.2L1102.9 83.9L1099.5 84.8L1091.4 84.8M1114.5 77.9L1128.3 77.9L1128.3 76.1L1127.1 74.4L1126.0 73.6L1123.7 72.7L1120.2 72.7L1117.9 73.6L1115.6 75.3L1114.5 77.9L1114.5 79.6L1115.6 82.2L1117.9 83.9L1120.2 84.8L1123.7 84.8L1126.0 83.9L1128.3 82.2M1136.3 72.7L1136.3 90.9M1136.3 75.3L1138.6 73.6L1141.0 72.7L1144.4 72.7L1146.7 73.6L1149.0 75.3L1150.2 77.9L1150.2 79.6L1149.0 82.2L1146.7 83.9L1144.4 84.8L1141.0 84.8L1138.6 83.9L1136.3 82.2M1170.9 72.7L1170.9 84.8M1170.9 75.3L1168.6 73.6L1166.3 72.7L1162.8 72.7L1160.5 73.6L1158.2 75.3L1157.1 77.9L1157.1 79.6L1158.2 82.2L1160.5 83.9L1162.8 84.8L1166.3 84.8L1168.6 83.9L1170.9 82.2M1180.1 72.7L1180.1 84.8M1180.1 77.9L1181.3 75.3L1183.6 73.6L1185.9 72.7L1189.3 72.7M1196.3 66.6L1196.3 81.3L1197.4 83.9L1199.7 84.8L1202.0 84.8M1192.8 72.7L1200.9 72.7M1221.6 72.7L1221.6 84.8M1221.6 75.3L1219.3 73.6L1217.0 72.7L1213.5 72.7L1211.2 73.6L1208.9 75.3L1207.8 77.9L1207.8 79.6L1208.9 82.2L1211.2 83.9L1213.5 84.8L1217.0 84.8L1219.3 83.9L1221.6 82.2M1230.8 72.7L1230.8 84.8M1230.8 76.1L1234.3 73.6L1236.6 72.7L1240.0 72.7L1242.4 73.6L1243.5 76.1L1243.5 84.8M1243.5 76.1L1247.0 73.6L1249.3 72.7L1252.7 72.7L1255.0 73.6L1256.2 76.1L1256.2 84.8M1264.2 77.9L1278.1 77.9L1278.1 76.1L1276.9 74.4L1275.8 73.6L1273.5 72.7L1270.0 72.7L1267.7 73.6L1265.4 75.3L1264.2 77.9L1264.2 79.6L1265.4 82.2L1267.7 83.9L1270.0 84.8L1273.5 84.8L1275.8 83.9L1278.1 82.2M1286.1 72.7L1286.1 84.8M1286.1 76.1L1289.6 73.6L1291.9 72.7L1295.4 72.7L1297.7 73.6L1298.8 76.1L1298.8 84.8M1309.2 66.6L1309.2 81.3L1310.3 83.9L1312.6 84.8L1314.9 84.8M1305.7 72.7L1313.8 72.7M1326.5 72.7L1324.2 73.6L1321.9 75.3L1320.7 77.9L1320.7 79.6L1321.9 82.2L1324.2 83.9L1326.5 84.8L1329.9 84.8L1332.2 83.9L1334.5 82.2L1335.7 79.6L1335.7 77.9L1334.5 75.3L1332.2 73.6L1329.9 72.7L1326.5 72.7M1374.9 66.6L1374.9 84.8M1374.9 75.3L1372.6 73.6L1370.3 72.7L1366.8 72.7L1364.5 73.6L1362.2 75.3L1361.0 77.9L1361.0 79.6L1362.2 82.2L1364.5 83.9L1366.8 84.8L1370.3 84.8L1372.6 83.9L1374.9 82.2M1382.9 77.9L1396.8 77.9L1396.8 76.1L1395.6 74.4L1394.5 73.6L1392.1 72.7L1388.7 72.7L1386.4 73.6L1384.1 75.3L1382.9 77.9L1382.9 79.6L1384.1 82.2L1386.4 83.9L1388.7 84.8L1392.1 84.8L1394.5 83.9L1396.8 82.2M1423.3 66.6L1423.3 84.8M1432.5 72.7L1432.5 84.8M1432.5 76.1L1435.9 73.6L1438.2 72.7L1441.7 72.7L1444.0 73.6L1445.2 76.1L1445.2 84.8M1467.0 72.7L1467.0 86.5L1465.9 89.1L1464.7 90.0L1462.4 90.9L1459.0 90.9L1456.7 90.0M1467.0 75.3L1464.7 73.6L1462.4 72.7L1459.0 72.7L1456.7 73.6L1454.4 75.3L1453.2 77.9L1453.2 79.6L1454.4 82.2L1456.7 83.9L1459.0 84.8L1462.4 84.8L1464.7 83.9L1467.0 82.2M1475.1 77.9L1488.9 77.9L1488.9 76.1L1487.8 74.4L1486.6 73.6L1484.3 72.7L1480.9 72.7L1478.6 73.6L1476.3 75.3L1475.1 77.9L1475.1 79.6L1476.3 82.2L1478.6 83.9L1480.9 84.8L1484.3 84.8L1486.6 83.9L1488.9 82.2M1497.0 72.7L1497.0 84.8M1497.0 76.1L1500.5 73.6L1502.8 72.7L1506.2 72.7L1508.5 73.6L1509.7 76.1L1509.7 84.8M1517.7 66.6L1518.9 67.5L1520.1 66.6L1518.9 65.8L1517.7 66.6M1518.9 72.7L1518.9 84.8M1527.0 77.9L1540.8 77.9L1540.8 76.1L1539.6 74.4L1538.5 73.6L1536.2 72.7L1532.7 72.7L1530.4 73.6L1528.1 75.3L1527.0 77.9L1527.0 79.6L1528.1 82.2L1530.4 83.9L1532.7 84.8L1536.2 84.8L1538.5 83.9L1540.8 82.2M1548.9 72.7L1548.9 84.8M1548.9 77.9L1550.0 75.3L1552.3 73.6L1554.6 72.7L1558.1 72.7M1562.7 66.6L1563.8 67.5L1565.0 66.6L1563.8 65.8L1562.7 66.6M1563.8 72.7L1563.8 84.8M1585.7 72.7L1585.7 84.8M1585.7 75.3L1583.4 73.6L1581.1 72.7L1577.7 72.7L1575.4 73.6L1573.1 75.3L1571.9 77.9L1571.9 79.6L1573.1 82.2L1575.4 83.9L1577.7 84.8L1581.1 84.8L1583.4 83.9L1585.7 82.2M1613.4 66.6L1613.4 84.8M1629.5 66.6L1629.5 84.8M1613.4 75.3L1629.5 75.3M1637.6 66.6L1638.7 67.5L1639.9 66.6L1638.7 65.8L1637.6 66.6M1638.7 72.7L1638.7 84.8M1660.6 66.6L1660.6 84.8M1660.6 75.3L1658.3 73.6L1656.0 72.7L1652.6 72.7L1650.3 73.6L1648.0 75.3L1646.8 77.9L1646.8 79.6L1648.0 82.2L1650.3 83.9L1652.6 84.8L1656.0 84.8L1658.3 83.9L1660.6 82.2M1669.8 72.7L1669.8 84.8M1669.8 77.9L1671.0 75.3L1673.3 73.6L1675.6 72.7L1679.1 72.7M1689.4 72.7L1687.1 73.6L1684.8 75.3L1683.7 77.9L1683.7 79.6L1684.8 82.2L1687.1 83.9L1689.4 84.8L1692.9 84.8L1695.2 83.9L1697.5 82.2L1698.7 79.6L1698.7 77.9L1697.5 75.3L1695.2 73.6L1692.9 72.7L1689.4 72.7M1706.7 72.7L1706.7 84.8M1706.7 76.1L1710.2 73.6L1712.5 72.7L1715.9 72.7L1718.2 73.6L1719.4 76.1L1719.4 84.8M1719.4 76.1L1722.9 73.6L1725.2 72.7L1728.6 72.7L1730.9 73.6L1732.1 76.1L1732.1 84.8M1740.1 77.9L1754.0 77.9L1754.0 76.1L1752.8 74.4L1751.7 73.6L1749.4 72.7L1745.9 72.7L1743.6 73.6L1741.3 75.3L1740.1 77.9L1740.1 79.6L1741.3 82.2L1743.6 83.9L1745.9 84.8L1749.4 84.8L1751.7 83.9L1754.0 82.2M1763.2 66.6L1763.2 81.3L1764.3 83.9L1766.6 84.8L1768.9 84.8M1759.7 72.7L1767.8 72.7M1774.7 77.9L1788.5 77.9L1788.5 76.1L1787.4 74.4L1786.2 73.6L1783.9 72.7L1780.5 72.7L1778.2 73.6L1775.9 75.3L1774.7 77.9L1774.7 79.6L1775.9 82.2L1778.2 83.9L1780.5 84.8L1783.9 84.8L1786.2 83.9L1788.5 82.2M1801.2 72.7L1798.9 73.6L1796.6 75.3L1795.4 77.9L1795.4 79.6L1796.6 82.2L1798.9 83.9L1801.2 84.8L1804.7 84.8L1807.0 83.9L1809.3 82.2L1810.4 79.6L1810.4 77.9L1809.3 75.3L1807.0 73.6L1804.7 72.7L1801.2 72.7M1818.5 72.7L1818.5 84.8M1818.5 77.9L1819.6 75.3L1821.9 73.6L1824.2 72.7L1827.7 72.7M1838.1 72.7L1835.8 73.6L1833.5 75.3L1832.3 77.9L1832.3 79.6L1833.5 82.2L1835.8 83.9L1838.1 84.8L1841.5 84.8L1843.8 83.9L1846.1 82.2L1847.3 79.6L1847.3 77.9L1846.1 75.3L1843.8 73.6L1841.5 72.7L1838.1 72.7M1855.4 66.6L1855.4 84.8M1869.2 72.7L1866.9 73.6L1864.6 75.3L1863.4 77.9L1863.4 79.6L1864.6 82.2L1866.9 83.9L1869.2 84.8L1872.6 84.8L1875.0 83.9L1877.3 82.2L1878.4 79.6L1878.4 77.9L1877.3 75.3L1875.0 73.6L1872.6 72.7L1869.2 72.7M1899.1 72.7L1899.1 86.5L1898.0 89.1L1896.8 90.0L1894.5 90.9L1891.1 90.9L1888.8 90.0M1899.1 75.3L1896.8 73.6L1894.5 72.7L1891.1 72.7L1888.8 73.6L1886.5 75.3L1885.3 77.9L1885.3 79.6L1886.5 82.2L1888.8 83.9L1891.1 84.8L1894.5 84.8L1896.8 83.9L1899.1 82.2M1907.2 66.6L1908.4 67.5L1909.5 66.6L1908.4 65.8L1907.2 66.6M1908.4 72.7L1908.4 84.8M1930.3 75.3L1928.0 73.6L1925.7 72.7L1922.2 72.7L1919.9 73.6L1917.6 75.3L1916.4 77.9L1916.4 79.6L1917.6 82.2L1919.9 83.9L1922.2 84.8L1925.7 84.8L1928.0 83.9L1930.3 82.2M1951.0 72.7L1951.0 84.8M1951.0 75.3L1948.7 73.6L1946.4 72.7L1942.9 72.7L1940.6 73.6L1938.3 75.3L1937.2 77.9L1937.2 79.6L1938.3 82.2L1940.6 83.9L1942.9 84.8L1946.4 84.8L1948.7 83.9L1951.0 82.2" fill="none" stroke="#f0108c" stroke-width="1.8" stroke-linecap="round" stroke-linejoin="round"/>
<path d="M663.5 104.6L663.5 122.7M672.8 110.7L672.8 122.7M672.8 114.1L676.2 111.5L678.5 110.7L682.0 110.7L684.3 111.5L685.5 114.1L685.5 122.7M707.4 110.7L707.4 124.4L706.3 127.0L705.1 127.9L702.8 128.7L699.3 128.7L697.0 127.9M707.4 113.2L705.1 111.5L702.8 110.7L699.3 110.7L697.0 111.5L694.7 113.2L693.6 115.8L693.6 117.5L694.7 120.1L697.0 121.8L699.3 122.7L702.8 122.7L705.1 121.8L707.4 120.1M715.5 115.8L729.4 115.8L729.4 114.1L728.3 112.4L727.1 111.5L724.8 110.7L721.3 110.7L719.0 111.5L716.7 113.2L715.5 115.8L715.5 117.5L716.7 120.1L719.0 121.8L721.3 122.7L724.8 122.7L727.1 121.8L729.4 120.1M737.5 110.7L737.5 122.7M737.5 114.1L741.0 111.5L743.3 110.7L746.8 110.7L749.1 111.5L750.2 114.1L750.2 122.7M758.3 104.6L759.5 105.5L760.6 104.6L759.5 103.8L758.3 104.6M759.5 110.7L759.5 122.7M767.6 115.8L781.5 115.8L781.5 114.1L780.3 112.4L779.1 111.5L776.8 110.7L773.4 110.7L771.0 111.5L768.7 113.2L767.6 115.8L767.6 117.5L768.7 120.1L771.0 121.8L773.4 122.7L776.8 122.7L779.1 121.8L781.5 120.1M789.5 110.7L789.5 122.7M789.5 115.8L790.7 113.2L793.0 111.5L795.3 110.7L798.8 110.7M809.2 110.7L806.9 111.5L804.6 113.2L803.4 115.8L803.4 117.5L804.6 120.1L806.9 121.8L809.2 122.7L812.7 122.7L815.0 121.8L817.3 120.1L818.5 117.5L818.5 115.8L817.3 113.2L815.0 111.5L812.7 110.7L809.2 110.7M838.1 113.2L837.0 111.5L833.5 110.7L830.0 110.7L826.5 111.5L825.4 113.2L826.5 115.0L828.9 115.8L834.6 116.7L837.0 117.5L838.1 119.3L838.1 120.1L837.0 121.8L833.5 122.7L830.0 122.7L826.5 121.8L825.4 120.1M864.7 104.6L864.7 122.7M864.7 104.6L875.1 104.6L878.6 105.5L879.7 106.4L880.9 108.1L880.9 109.8L879.7 111.5L878.6 112.4L875.1 113.2L864.7 113.2M872.8 113.2L880.9 122.7M901.7 110.7L901.7 122.7M901.7 113.2L899.4 111.5L897.1 110.7L893.6 110.7L891.3 111.5L889.0 113.2L887.8 115.8L887.8 117.5L889.0 120.1L891.3 121.8L893.6 122.7L897.1 122.7L899.4 121.8L901.7 120.1M917.9 104.6L915.6 104.6L913.3 105.5L912.1 108.1L912.1 122.7M908.7 110.7L916.7 110.7M937.6 110.7L937.6 122.7M937.6 113.2L935.2 111.5L932.9 110.7L929.5 110.7L927.2 111.5L924.8 113.2L923.7 115.8L923.7 117.5L924.8 120.1L927.2 121.8L929.5 122.7L932.9 122.7L935.2 121.8L937.6 120.1M945.7 115.8L959.5 115.8L959.5 114.1L958.4 112.4L957.2 111.5L954.9 110.7L951.4 110.7L949.1 111.5L946.8 113.2L945.7 115.8L945.7 117.5L946.8 120.1L949.1 121.8L951.4 122.7L954.9 122.7L957.2 121.8L959.5 120.1M967.6 104.6L967.6 122.7M995.4 104.6L995.4 122.7M995.4 104.6L1004.6 122.7M1013.9 104.6L1004.6 122.7M1013.9 104.6L1013.9 122.7M1023.1 110.7L1023.1 119.3L1024.3 121.8L1026.6 122.7L1030.1 122.7L1032.4 121.8L1035.9 119.3M1035.9 110.7L1035.9 122.7M1045.1 110.7L1045.1 122.7M1045.1 114.1L1048.6 111.5L1050.9 110.7L1054.4 110.7L1056.7 111.5L1057.8 114.1L1057.8 122.7M1079.8 104.6L1079.8 122.7M1079.8 113.2L1077.5 111.5L1075.2 110.7L1071.7 110.7L1069.4 111.5L1067.1 113.2L1065.9 115.8L1065.9 117.5L1067.1 120.1L1069.4 121.8L1071.7 122.7L1075.2 122.7L1077.5 121.8L1079.8 120.1M1101.8 110.7L1101.8 122.7M1101.8 113.2L1099.5 111.5L1097.1 110.7L1093.7 110.7L1091.4 111.5L1089.0 113.2L1087.9 115.8L1087.9 117.5L1089.0 120.1L1091.4 121.8L1093.7 122.7L1097.1 122.7L1099.5 121.8L1101.8 120.1M1111.0 110.7L1111.0 122.7M1111.0 115.8L1112.2 113.2L1114.5 111.5L1116.8 110.7L1120.3 110.7M1138.8 110.7L1138.8 122.7M1138.8 113.2L1136.5 111.5L1134.1 110.7L1130.7 110.7L1128.4 111.5L1126.0 113.2L1124.9 115.8L1124.9 117.5L1126.0 120.1L1128.4 121.8L1130.7 122.7L1134.1 122.7L1136.5 121.8L1138.8 120.1M1145.7 110.7L1152.6 122.7M1159.6 110.7L1152.6 122.7L1150.3 126.1L1148.0 127.9L1145.7 128.7L1144.6 128.7M1182.7 110.7L1189.6 122.7M1196.6 110.7L1189.6 122.7L1187.3 126.1L1185.0 127.9L1182.7 128.7L1181.6 128.7M1227.8 104.6L1218.6 122.7M1227.8 104.6L1237.1 122.7M1222.0 116.7L1233.6 116.7M1242.8 104.6L1242.8 122.7M1259.0 104.6L1256.7 104.6L1254.4 105.5L1253.3 108.1L1253.3 122.7M1249.8 110.7L1257.9 110.7M1266.0 110.7L1266.0 122.7M1266.0 115.8L1267.1 113.2L1269.4 111.5L1271.8 110.7L1275.2 110.7M1279.8 115.8L1293.7 115.8L1293.7 114.1L1292.6 112.4L1291.4 111.5L1289.1 110.7L1285.6 110.7L1283.3 111.5L1281.0 113.2L1279.8 115.8L1279.8 117.5L1281.0 120.1L1283.3 121.8L1285.6 122.7L1289.1 122.7L1291.4 121.8L1293.7 120.1M1314.5 104.6L1314.5 122.7M1314.5 113.2L1312.2 111.5L1309.9 110.7L1306.4 110.7L1304.1 111.5L1301.8 113.2L1300.7 115.8L1300.7 117.5L1301.8 120.1L1304.1 121.8L1306.4 122.7L1309.9 122.7L1312.2 121.8L1314.5 120.1M1328.4 110.7L1326.1 111.5L1323.8 113.2L1322.6 115.8L1322.6 117.5L1323.8 120.1L1326.1 121.8L1328.4 122.7L1331.9 122.7L1334.2 121.8L1336.5 120.1L1337.7 117.5L1337.7 115.8L1336.5 113.2L1334.2 111.5L1331.9 110.7L1328.4 110.7M1380.5 108.9L1379.3 107.2L1377.0 105.5L1374.7 104.6L1370.0 104.6L1367.7 105.5L1365.4 107.2L1364.3 108.9L1363.1 111.5L1363.1 115.8L1364.3 118.4L1365.4 120.1L1367.7 121.8L1370.0 122.7L1374.7 122.7L1377.0 121.8L1379.3 120.1L1380.5 118.4L1380.5 115.8M1374.7 115.8L1380.5 115.8M1387.4 104.6L1388.5 105.5L1389.7 104.6L1388.5 103.8L1387.4 104.6M1388.5 110.7L1388.5 122.7M1397.8 104.6L1397.8 122.7M1425.6 115.0L1446.4 115.0M1474.1 104.6L1474.1 122.7M1474.1 104.6L1482.2 104.6L1485.7 105.5L1488.0 107.2L1489.2 108.9L1490.3 111.5L1490.3 115.8L1489.2 118.4L1488.0 120.1L1485.7 121.8L1482.2 122.7L1474.1 122.7M1511.1 110.7L1511.1 122.7M1511.1 113.2L1508.8 111.5L1506.5 110.7L1503.0 110.7L1500.7 111.5L1498.4 113.2L1497.2 115.8L1497.2 117.5L1498.4 120.1L1500.7 121.8L1503.0 122.7L1506.5 122.7L1508.8 121.8L1511.1 120.1M1521.5 104.6L1521.5 119.3L1522.7 121.8L1525.0 122.7L1527.3 122.7M1518.1 110.7L1526.2 110.7M1538.9 110.7L1536.6 111.5L1534.2 113.2L1533.1 115.8L1533.1 117.5L1534.2 120.1L1536.6 121.8L1538.9 122.7L1542.3 122.7L1544.7 121.8L1547.0 120.1L1548.1 117.5L1548.1 115.8L1547.0 113.2L1544.7 111.5L1542.3 110.7L1538.9 110.7M1567.8 113.2L1566.6 111.5L1563.2 110.7L1559.7 110.7L1556.2 111.5L1555.1 113.2L1556.2 115.0L1558.5 115.8L1564.3 116.7L1566.6 117.5L1567.8 119.3L1567.8 120.1L1566.6 121.8L1563.2 122.7L1559.7 122.7L1556.2 121.8L1555.1 120.1M1594.4 104.6L1594.4 122.7M1594.4 104.6L1603.6 122.7M1612.9 104.6L1603.6 122.7M1612.9 104.6L1612.9 122.7M1626.8 110.7L1624.4 111.5L1622.1 113.2L1621.0 115.8L1621.0 117.5L1622.1 120.1L1624.4 121.8L1626.8 122.7L1630.2 122.7L1632.5 121.8L1634.9 120.1L1636.0 117.5L1636.0 115.8L1634.9 113.2L1632.5 111.5L1630.2 110.7L1626.8 110.7M1656.8 104.6L1656.8 122.7M1656.8 113.2L1654.5 111.5L1652.2 110.7L1648.7 110.7L1646.4 111.5L1644.1 113.2L1642.9 115.8L1642.9 117.5L1644.1 120.1L1646.4 121.8L1648.7 122.7L1652.2 122.7L1654.5 121.8L1656.8 120.1M1664.9 115.8L1678.8 115.8L1678.8 114.1L1677.6 112.4L1676.5 111.5L1674.2 110.7L1670.7 110.7L1668.4 111.5L1666.1 113.2L1664.9 115.8L1664.9 117.5L1666.1 120.1L1668.4 121.8L1670.7 122.7L1674.2 122.7L1676.5 121.8L1678.8 120.1M1686.9 104.6L1686.9 122.7M1700.8 110.7L1698.5 111.5L1696.1 113.2L1695.0 115.8L1695.0 117.5L1696.1 120.1L1698.5 121.8L1700.8 122.7L1704.2 122.7L1706.5 121.8L1708.9 120.1L1710.0 117.5L1710.0 115.8L1708.9 113.2L1706.5 111.5L1704.2 110.7L1700.8 110.7M1752.8 108.9L1751.6 107.2L1749.3 105.5L1747.0 104.6L1742.4 104.6L1740.1 105.5L1737.8 107.2L1736.6 108.9L1735.5 111.5L1735.5 115.8L1736.6 118.4L1737.8 120.1L1740.1 121.8L1742.4 122.7L1747.0 122.7L1749.3 121.8L1751.6 120.1L1752.8 118.4M1760.9 104.6L1760.9 122.7M1760.9 104.6L1775.9 104.6M1760.9 113.2L1770.1 113.2M1796.7 107.2L1794.4 105.5L1791.0 104.6L1786.3 104.6L1782.9 105.5L1780.6 107.2L1780.6 108.9L1781.7 110.7L1782.9 111.5L1785.2 112.4L1792.1 114.1L1794.4 115.0L1795.6 115.8L1796.7 117.5L1796.7 120.1L1794.4 121.8L1791.0 122.7L1786.3 122.7L1782.9 121.8L1780.6 120.1M1802.5 110.7L1809.5 122.7M1816.4 110.7L1809.5 122.7M1823.3 108.9L1823.3 108.1L1824.5 106.4L1825.7 105.5L1828.0 104.6L1832.6 104.6L1834.9 105.5L1836.1 106.4L1837.2 108.1L1837.2 109.8L1836.1 111.5L1833.7 114.1L1822.2 122.7L1838.4 122.7M1865.0 104.6L1865.0 122.7M1865.0 104.6L1881.2 122.7M1881.2 104.6L1881.2 122.7M1896.2 104.6L1893.9 105.5L1891.6 107.2L1890.4 108.9L1889.3 111.5L1889.3 115.8L1890.4 118.4L1891.6 120.1L1893.9 121.8L1896.2 122.7L1900.8 122.7L1903.1 121.8L1905.4 120.1L1906.6 118.4L1907.8 115.8L1907.8 111.5L1906.6 108.9L1905.4 107.2L1903.1 105.5L1900.8 104.6L1896.2 104.6M1921.6 104.6L1912.4 122.7M1921.6 104.6L1930.9 122.7M1915.9 116.7L1927.4 116.7M1942.4 104.6L1933.2 122.7M1942.4 104.6L1951.7 122.7M1936.7 116.7L1948.2 116.7" fill="none" stroke="#f0108c" stroke-width="1.8" stroke-linecap="round" stroke-linejoin="round"/>
<path d="M1502.5 79L1505.5 80.5L1505 84L1503 86.5L1502.3 90.5L1501.6 94.5L1503.5 95.6L1505.6 93L1505.3 88L1503.6 84L1502 81.5Z" fill="none" stroke="#000" stroke-width="1.2"/>
<path d="M30.4 1576.8L29.4 1575.2L27.4 1573.6L25.3 1572.8L21.3 1572.8L19.3 1573.6L17.2 1575.2L16.2 1576.8L15.2 1579.3L15.2 1583.3L16.2 1585.8L17.2 1587.4L19.3 1589.0L21.3 1589.8L25.3 1589.8L27.4 1589.0L29.4 1587.4L30.4 1585.8L30.4 1583.3M25.3 1583.3L30.4 1583.3M37.5 1578.5L37.5 1589.8M37.5 1583.3L38.5 1580.9L40.6 1579.3L42.6 1578.5L45.6 1578.5M55.8 1572.8L47.7 1589.8M55.8 1572.8L63.9 1589.8M50.7 1584.1L60.9 1584.1M69.0 1572.8L69.0 1589.8M69.0 1572.8L76.1 1572.8L79.1 1573.6L81.2 1575.2L82.2 1576.8L83.2 1579.3L83.2 1583.3L82.2 1585.8L81.2 1587.4L79.1 1589.0L76.1 1589.8L69.0 1589.8M103.5 1575.2L101.5 1573.6L98.4 1572.8L94.4 1572.8L91.3 1573.6L89.3 1575.2L89.3 1576.8L90.3 1578.5L91.3 1579.3L93.3 1580.1L99.4 1581.7L101.5 1582.5L102.5 1583.3L103.5 1584.9L103.5 1587.4L101.5 1589.0L98.4 1589.8L94.4 1589.8L91.3 1589.0L89.3 1587.4M126.8 1569.5L108.6 1595.5M147.1 1576.8L146.1 1575.2L144.1 1573.6L142.1 1572.8L138.0 1572.8L136.0 1573.6L133.9 1575.2L132.9 1576.8L131.9 1579.3L131.9 1583.3L132.9 1585.8L133.9 1587.4L136.0 1589.0L138.0 1589.8L142.1 1589.8L144.1 1589.0L146.1 1587.4L147.1 1585.8M159.3 1572.8L157.3 1573.6L155.2 1575.2L154.2 1576.8L153.2 1579.3L153.2 1583.3L154.2 1585.8L155.2 1587.4L157.3 1589.0L159.3 1589.8L163.4 1589.8L165.4 1589.0L167.4 1587.4L168.4 1585.8L169.5 1583.3L169.5 1579.3L168.4 1576.8L167.4 1575.2L165.4 1573.6L163.4 1572.8L159.3 1572.8M176.6 1572.8L176.6 1589.8M176.6 1589.8L188.7 1589.8M198.9 1572.8L190.8 1589.8M198.9 1572.8L207.0 1589.8M193.8 1584.1L204.0 1584.1" fill="none" stroke="#000" stroke-width="1.8" stroke-linecap="round" stroke-linejoin="round"/>
<rect x="2271.6" y="251.5" width="46.9" height="91.4" fill="#005aff"/>
<rect x="2271.6" y="342.9" width="46.9" height="91.8" fill="#0074ff"/>
<rect x="2271.6" y="434.7" width="46.9" height="91.3" fill="#0088ff"/>
<rect x="2271.6" y="526" width="46.9" height="91.8" fill="#00a0ff"/>
<rect x="2271.6" y="617.8" width="46.9" height="91.6" fill="#1eb4ff"/>
<rect x="2271.6" y="709.4" width="46.9" height="91" fill="#50c4ff"/>
<rect x="2271.6" y="800.4" width="46.9" height="91" fill="#fff"/>
<rect x="2271.6" y="891.4" width="46.9" height="92" fill="#fffb96"/>
<rect x="2271.6" y="983.4" width="46.9" height="91.2" fill="#ffc850"/>
<rect x="2271.6" y="1074.6" width="46.9" height="91.1" fill="#ffb41e"/>
<rect x="2271.6" y="1165.7" width="46.9" height="91.6" fill="#ffa000"/>
<rect x="2271.6" y="1257.3" width="46.9" height="91.7" fill="#ff8c00"/>
<path d="M2271.6 251.5L2295.1 158.8L2318.5 251.5Z" fill="#0000ff"/>
<path d="M2271.6 1349L2295.1 1441L2318.5 1349Z" fill="#ff7800"/>
<path d="M2271.6 251.5H2318.5M2271.6 342.9H2318.5M2271.6 434.7H2318.5M2271.6 526H2318.5M2271.6 617.8H2318.5M2271.6 709.4H2318.5M2271.6 800.4H2318.5M2271.6 891.4H2318.5M2271.6 983.4H2318.5M2271.6 1074.6H2318.5M2271.6 1165.7H2318.5M2271.6 1257.3H2318.5M2271.6 1349H2318.5" stroke="#000" stroke-width="1.8" fill="none"/>
<path d="M2271.6 251.5L2295.1 158.8L2318.5 251.5V1349L2295.1 1441L2271.6 1349Z" stroke="#000" stroke-width="1.2" fill="none" stroke-linejoin="miter"/>
<path d="M2337.0 244.6L2339.6 243.5L2343.7 240.3L2343.7 262.8M2367.8 240.3L2363.8 241.4L2361.1 244.6L2359.8 250.0L2359.8 253.2L2361.1 258.5L2363.8 261.7L2367.8 262.8L2370.5 262.8L2374.6 261.7L2377.2 258.5L2378.6 253.2L2378.6 250.0L2377.2 244.6L2374.6 241.4L2370.5 240.3L2367.8 240.3M2394.7 240.3L2390.7 241.4L2388.0 244.6L2386.6 250.0L2386.6 253.2L2388.0 258.5L2390.7 261.7L2394.7 262.8L2397.4 262.8L2401.4 261.7L2404.1 258.5L2405.5 253.2L2405.5 250.0L2404.1 244.6L2401.4 241.4L2397.4 240.3L2394.7 240.3" fill="none" stroke="#000" stroke-width="1.9" stroke-linecap="round" stroke-linejoin="round"/>
<path d="M2339.6 331.7L2335.6 332.8L2334.3 334.9L2334.3 337.1L2335.6 339.2L2338.3 340.3L2343.7 341.4L2347.7 342.4L2350.4 344.6L2351.7 346.7L2351.7 349.9L2350.4 352.1L2349.0 353.1L2345.0 354.2L2339.6 354.2L2335.6 353.1L2334.3 352.1L2332.9 349.9L2332.9 346.7L2334.3 344.6L2337.0 342.4L2341.0 341.4L2346.4 340.3L2349.0 339.2L2350.4 337.1L2350.4 334.9L2349.0 332.8L2345.0 331.7L2339.6 331.7M2367.8 331.7L2363.8 332.8L2361.1 336.0L2359.8 341.4L2359.8 344.6L2361.1 349.9L2363.8 353.1L2367.8 354.2L2370.5 354.2L2374.6 353.1L2377.2 349.9L2378.6 344.6L2378.6 341.4L2377.2 336.0L2374.6 332.8L2370.5 331.7L2367.8 331.7" fill="none" stroke="#000" stroke-width="1.9" stroke-linecap="round" stroke-linejoin="round"/>
<path d="M2350.4 426.7L2349.0 424.6L2345.0 423.5L2342.3 423.5L2338.3 424.6L2335.6 427.8L2334.3 433.2L2334.3 438.5L2335.6 442.8L2338.3 444.9L2342.3 446.0L2343.7 446.0L2347.7 444.9L2350.4 442.8L2351.7 439.6L2351.7 438.5L2350.4 435.3L2347.7 433.2L2343.7 432.1L2342.3 432.1L2338.3 433.2L2335.6 435.3L2334.3 438.5M2367.8 423.5L2363.8 424.6L2361.1 427.8L2359.8 433.2L2359.8 436.4L2361.1 441.7L2363.8 444.9L2367.8 446.0L2370.5 446.0L2374.6 444.9L2377.2 441.7L2378.6 436.4L2378.6 433.2L2377.2 427.8L2374.6 424.6L2370.5 423.5L2367.8 423.5" fill="none" stroke="#000" stroke-width="1.9" stroke-linecap="round" stroke-linejoin="round"/>
<path d="M2346.4 514.8L2332.9 529.8L2353.1 529.8M2346.4 514.8L2346.4 537.3M2367.8 514.8L2363.8 515.9L2361.1 519.1L2359.8 524.5L2359.8 527.7L2361.1 533.0L2363.8 536.2L2367.8 537.3L2370.5 537.3L2374.6 536.2L2377.2 533.0L2378.6 527.7L2378.6 524.5L2377.2 519.1L2374.6 515.9L2370.5 514.8L2367.8 514.8" fill="none" stroke="#000" stroke-width="1.9" stroke-linecap="round" stroke-linejoin="round"/>
<path d="M2334.3 612.0L2334.3 610.9L2335.6 608.8L2337.0 607.7L2339.6 606.6L2345.0 606.6L2347.7 607.7L2349.0 608.8L2350.4 610.9L2350.4 613.0L2349.0 615.2L2346.4 618.4L2332.9 629.1L2351.7 629.1M2367.8 606.6L2363.8 607.7L2361.1 610.9L2359.8 616.3L2359.8 619.5L2361.1 624.8L2363.8 628.0L2367.8 629.1L2370.5 629.1L2374.6 628.0L2377.2 624.8L2378.6 619.5L2378.6 616.3L2377.2 610.9L2374.6 607.7L2370.5 606.6L2367.8 606.6" fill="none" stroke="#000" stroke-width="1.9" stroke-linecap="round" stroke-linejoin="round"/>
<path d="M2337.0 702.5L2339.6 701.4L2343.7 698.2L2343.7 720.7M2367.8 698.2L2363.8 699.3L2361.1 702.5L2359.8 707.9L2359.8 711.1L2361.1 716.4L2363.8 719.6L2367.8 720.7L2370.5 720.7L2374.6 719.6L2377.2 716.4L2378.6 711.1L2378.6 707.9L2377.2 702.5L2374.6 699.3L2370.5 698.2L2367.8 698.2" fill="none" stroke="#000" stroke-width="1.9" stroke-linecap="round" stroke-linejoin="round"/>
<path d="M2341.0 789.2L2337.0 790.3L2334.3 793.5L2332.9 798.9L2332.9 802.1L2334.3 807.4L2337.0 810.6L2341.0 811.7L2343.7 811.7L2347.7 810.6L2350.4 807.4L2351.7 802.1L2351.7 798.9L2350.4 793.5L2347.7 790.3L2343.7 789.2L2341.0 789.2" fill="none" stroke="#000" stroke-width="1.9" stroke-linecap="round" stroke-linejoin="round"/>
<path d="M2334.3 893.1L2358.4 893.1M2371.9 884.5L2374.6 883.4L2378.6 880.2L2378.6 902.7M2402.8 880.2L2398.7 881.3L2396.1 884.5L2394.7 889.9L2394.7 893.1L2396.1 898.4L2398.7 901.6L2402.8 902.7L2405.5 902.7L2409.5 901.6L2412.2 898.4L2413.5 893.1L2413.5 889.9L2412.2 884.5L2409.5 881.3L2405.5 880.2L2402.8 880.2" fill="none" stroke="#000" stroke-width="1.9" stroke-linecap="round" stroke-linejoin="round"/>
<path d="M2334.3 985.1L2358.4 985.1M2369.2 977.6L2369.2 976.5L2370.5 974.4L2371.9 973.3L2374.6 972.2L2379.9 972.2L2382.6 973.3L2384.0 974.4L2385.3 976.5L2385.3 978.6L2384.0 980.8L2381.3 984.0L2367.8 994.7L2386.6 994.7M2402.8 972.2L2398.7 973.3L2396.1 976.5L2394.7 981.9L2394.7 985.1L2396.1 990.4L2398.7 993.6L2402.8 994.7L2405.5 994.7L2409.5 993.6L2412.2 990.4L2413.5 985.1L2413.5 981.9L2412.2 976.5L2409.5 973.3L2405.5 972.2L2402.8 972.2" fill="none" stroke="#000" stroke-width="1.9" stroke-linecap="round" stroke-linejoin="round"/>
<path d="M2334.3 1076.3L2358.4 1076.3M2381.3 1063.4L2367.8 1078.4L2388.0 1078.4M2381.3 1063.4L2381.3 1085.9M2402.8 1063.4L2398.7 1064.5L2396.1 1067.7L2394.7 1073.1L2394.7 1076.3L2396.1 1081.6L2398.7 1084.8L2402.8 1085.9L2405.5 1085.9L2409.5 1084.8L2412.2 1081.6L2413.5 1076.3L2413.5 1073.1L2412.2 1067.7L2409.5 1064.5L2405.5 1063.4L2402.8 1063.4" fill="none" stroke="#000" stroke-width="1.9" stroke-linecap="round" stroke-linejoin="round"/>
<path d="M2334.3 1167.4L2358.4 1167.4M2385.3 1157.7L2384.0 1155.6L2379.9 1154.5L2377.2 1154.5L2373.2 1155.6L2370.5 1158.8L2369.2 1164.2L2369.2 1169.5L2370.5 1173.8L2373.2 1175.9L2377.2 1177.0L2378.6 1177.0L2382.6 1175.9L2385.3 1173.8L2386.6 1170.6L2386.6 1169.5L2385.3 1166.3L2382.6 1164.2L2378.6 1163.1L2377.2 1163.1L2373.2 1164.2L2370.5 1166.3L2369.2 1169.5M2402.8 1154.5L2398.7 1155.6L2396.1 1158.8L2394.7 1164.2L2394.7 1167.4L2396.1 1172.7L2398.7 1175.9L2402.8 1177.0L2405.5 1177.0L2409.5 1175.9L2412.2 1172.7L2413.5 1167.4L2413.5 1164.2L2412.2 1158.8L2409.5 1155.6L2405.5 1154.5L2402.8 1154.5" fill="none" stroke="#000" stroke-width="1.9" stroke-linecap="round" stroke-linejoin="round"/>
<path d="M2334.3 1259.0L2358.4 1259.0M2374.6 1246.1L2370.5 1247.2L2369.2 1249.3L2369.2 1251.5L2370.5 1253.6L2373.2 1254.7L2378.6 1255.8L2382.6 1256.8L2385.3 1259.0L2386.6 1261.1L2386.6 1264.3L2385.3 1266.5L2384.0 1267.5L2379.9 1268.6L2374.6 1268.6L2370.5 1267.5L2369.2 1266.5L2367.8 1264.3L2367.8 1261.1L2369.2 1259.0L2371.9 1256.8L2375.9 1255.8L2381.3 1254.7L2384.0 1253.6L2385.3 1251.5L2385.3 1249.3L2384.0 1247.2L2379.9 1246.1L2374.6 1246.1M2402.8 1246.1L2398.7 1247.2L2396.1 1250.4L2394.7 1255.8L2394.7 1259.0L2396.1 1264.3L2398.7 1267.5L2402.8 1268.6L2405.5 1268.6L2409.5 1267.5L2412.2 1264.3L2413.5 1259.0L2413.5 1255.8L2412.2 1250.4L2409.5 1247.2L2405.5 1246.1L2402.8 1246.1" fill="none" stroke="#000" stroke-width="1.9" stroke-linecap="round" stroke-linejoin="round"/>
<path d="M2334.3 1350.7L2358.4 1350.7M2371.9 1342.1L2374.6 1341.0L2378.6 1337.8L2378.6 1360.3M2402.8 1337.8L2398.7 1338.9L2396.1 1342.1L2394.7 1347.5L2394.7 1350.7L2396.1 1356.0L2398.7 1359.2L2402.8 1360.3L2405.5 1360.3L2409.5 1359.2L2412.2 1356.0L2413.5 1350.7L2413.5 1347.5L2412.2 1342.1L2409.5 1338.9L2405.5 1337.8L2402.8 1337.8M2429.6 1337.8L2425.6 1338.9L2422.9 1342.1L2421.6 1347.5L2421.6 1350.7L2422.9 1356.0L2425.6 1359.2L2429.6 1360.3L2432.3 1360.3L2436.3 1359.2L2439.0 1356.0L2440.4 1350.7L2440.4 1347.5L2439.0 1342.1L2436.3 1338.9L2432.3 1337.8L2429.6 1337.8" fill="none" stroke="#000" stroke-width="1.9" stroke-linecap="round" stroke-linejoin="round"/>
</svg></body></html>
